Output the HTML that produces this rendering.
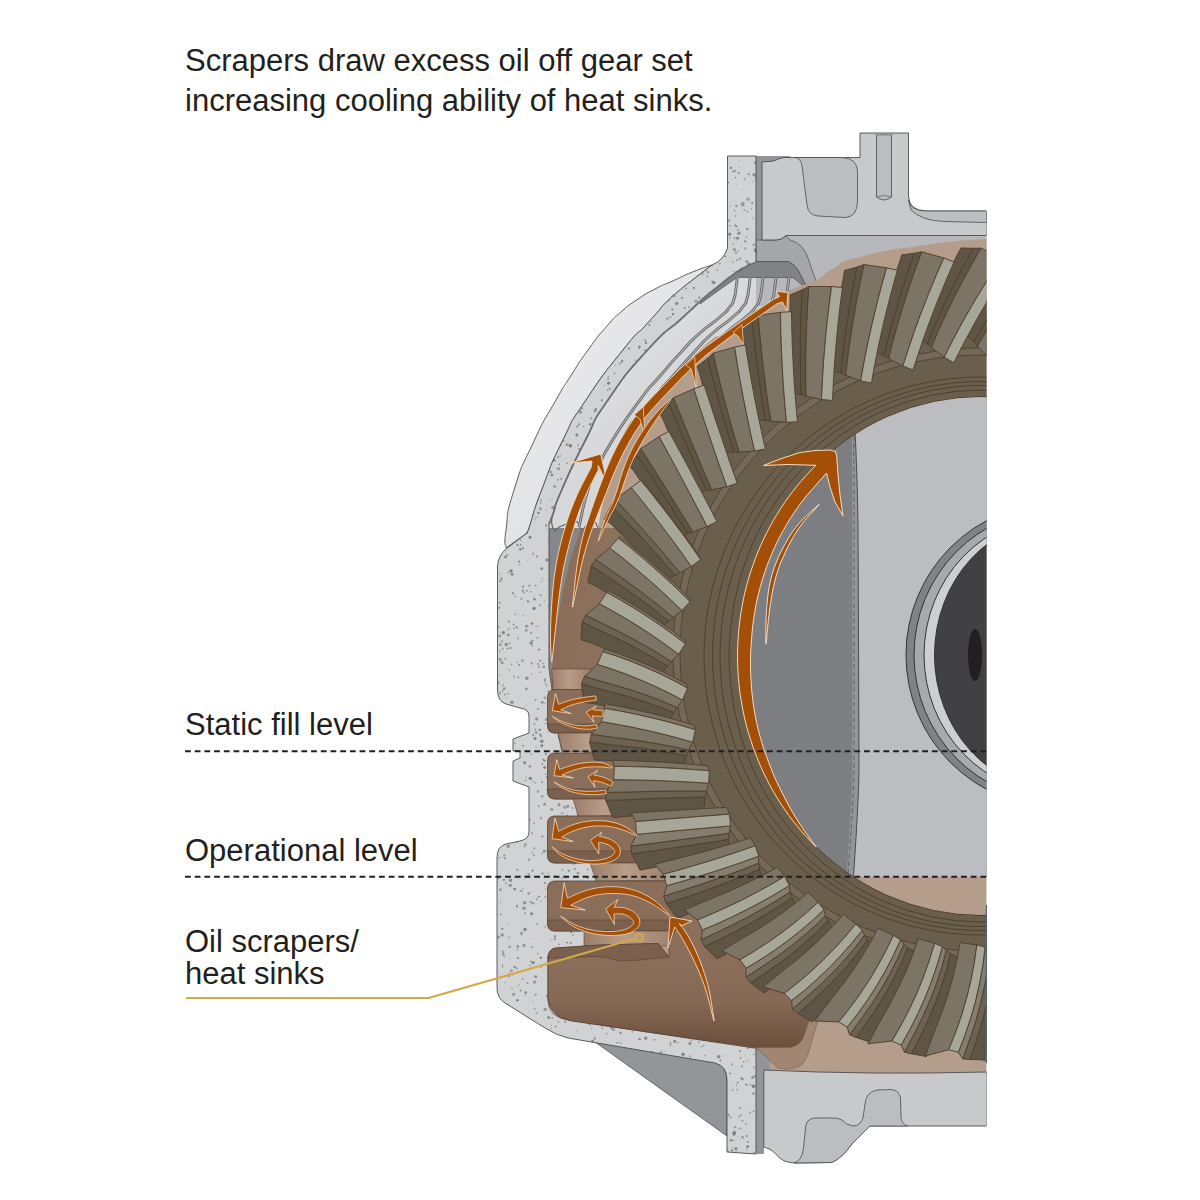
<!DOCTYPE html>
<html><head><meta charset="utf-8"><title>Scrapers</title>
<style>
html,body{margin:0;padding:0;background:#fff}
body{width:1200px;height:1200px;position:relative;overflow:hidden;font-family:"Liberation Sans",sans-serif;color:#231f20}
svg{position:absolute;left:0;top:0}
.t{position:absolute;white-space:nowrap;font-size:31px;line-height:40px;letter-spacing:0}
</style></head><body>
<svg width="1200" height="1200" viewBox="0 0 1200 1200">
<defs>
<linearGradient id="gShell" x1="0" y1="0" x2="1" y2="1"><stop offset="0" stop-color="#efeff0"/><stop offset="1" stop-color="#d8d9db"/></linearGradient>
<linearGradient id="gBand" x1="0" y1="0" x2="1" y2="1"><stop offset="0" stop-color="#e4e5e6"/><stop offset="1" stop-color="#c9cacc"/></linearGradient>
<linearGradient id="gSump2" x1="0" y1="950" x2="0" y2="1050" gradientUnits="userSpaceOnUse"><stop offset="0" stop-color="#8b6f5b"/><stop offset="0.5" stop-color="#866a56"/><stop offset="1" stop-color="#6a4e3b"/></linearGradient>
<linearGradient id="gNeck" x1="0" y1="0" x2="1" y2="0"><stop offset="0" stop-color="#9a7e6a"/><stop offset="0.35" stop-color="#b89d89"/><stop offset="1" stop-color="#8f735f"/></linearGradient>
<linearGradient id="gOilL" x1="550" y1="0" x2="620" y2="0" gradientUnits="userSpaceOnUse"><stop offset="0" stop-color="#8a6d59"/><stop offset="1" stop-color="#8d725e"/></linearGradient>
<clipPath id="cpAll"><rect x="0" y="0" width="986.5" height="1200"/></clipPath>
</defs>
<rect width="1200" height="1200" fill="#fff"/>
<g clip-path="url(#cpAll)">
<path d="M712,265 C705.5,267.3 705.2,266.9 692.5,272 C679.8,277.1 686.5,274.7 674,280.4 C661.5,286.1 667.7,282.3 655,289 C642.3,295.7 647.3,292.7 636,300.4 C624.7,308.1 630.5,303.7 621,312 C611.5,320.3 618.5,312.7 607.5,325.4 C596.5,338.1 600.5,332.8 588,350 C575.5,367.2 580.7,360.3 570,377 C559.3,393.7 568,378.7 556,400 C544,421.3 548,411 534,441 C520,471 523.3,460.3 514,490 C504.7,519.7 508.7,510.7 506,530 C503.3,549.3 506,542 506,548 L527,533 C528,530.3 525.1,539.3 530,525 C534.9,510.7 530.9,518 541.7,490 C552.5,462 547.7,471 562.5,441 C577.3,411 565.8,430.3 586,400 C606.2,369.7 603.3,374.7 623,350 C642.7,325.3 634.3,337.7 645,326 C655.7,314.3 647.5,323.3 655,315 C662.5,306.7 659.2,309.3 667.5,301 C675.8,292.7 671.7,297 680,290 C688.3,283 681.8,288.3 692.5,280 C703.2,271.7 705.5,270 712,265Z" fill="url(#gShell)" stroke="#4d4d4f" stroke-width="0.9"/>
<path d="M549,515 L640,515 L640,700 L549,700Z" fill="#85878a"/>
<path d="M756,262 C751.7,264 751.7,263 743,268 C734.3,273 738.5,270.7 730,277 C721.5,283.3 725.8,280.3 717.5,287 C709.2,293.7 713.3,289.8 705,297 C696.7,304.2 700.8,300.8 692.5,308.5 C684.2,316.2 695,306.2 680,320 C665,333.8 671.5,323.3 647.5,350 C623.5,376.7 628.8,369.7 608,400 C587.2,430.3 600.4,411 585,441 C569.6,471 572.4,465.7 561.7,490 C551,514.3 557.2,502.7 553,514 C548.8,525.3 550.3,520.7 549,524 L549,528 L640,528 L700,400 L800,300 L800,262Z" fill="url(#gBand)"/>
<path d="M552,517 Q550.5,528 555.5,531 L558,527.5 Q566,523 577,521.5 L579,525 Q580,530 583,530 L585,526.5 Q590,524 596,522.5 L597,526 Q598,530 601,530 L603,526 L611,522" fill="none" stroke="#4d4d4f" stroke-width="1"/>
<rect x="756" y="230" width="231" height="76" fill="#b6b8bb"/>
<path d="M756,156 L790,156 L790,162 L762,162 L762,240 L756,240Z" fill="#939598"/>
<path d="M756,240 L776,240 Q782,240 786,236 L790,240 Q803,243 808,258 L819,290 L808,290 L800,274 Q796,265 788,261.5 L756,261.5Z" fill="#a4a6a9" stroke="#4d4d4f" stroke-width="0.7"/>
<path d="M756,261.5 L788,261.5 Q796,265 800,274 L808,290 L793,277.5 L737,277.5 L722,288 L700,304 L703,298 L730,276.5Z" fill="#808285" stroke="#4d4d4f" stroke-width="0.7"/>
<path d="M762,162 L774,161 Q779,158 784,157.5 L860,157.5 L860,133 L908.5,133 L908.5,196 Q909,210.5 926,211 L986.5,211 L986.5,235.5 L786,235.5 Q782,240 776,240 L762,240Z" fill="#c8c9cb" stroke="#4d4d4f" stroke-width="0.9"/>
<path d="M908.5,200 Q910,210.5 926,211 L986.5,211 L986.5,222.5 L945,221.5 Q922,221 911,210Z" fill="#bdbec1" stroke="#4d4d4f" stroke-width="0.8"/>
<path d="M795,157.5 L842,157.5 Q857.5,158 857.5,172 L857.5,202 Q857,217 845,217.5 L818,216 Q808,215 807,205 L802,166 Q801,158 795,157.5Z" fill="#bbbdc0" stroke="#4d4d4f" stroke-width="0.8"/>
<path d="M876.5,134.5 L876.5,197 Q884,203 891.5,197 L891.5,134.5Z" fill="#bbbdc0" stroke="#4d4d4f" stroke-width="0.8"/>
<path d="M874,133.2 L894,133.2 L891.5,135.5 L876.5,135.5Z" fill="#8a8c8f"/>
<path d="M876.5,197 Q884,194 891.5,197" fill="none" stroke="#4d4d4f" stroke-width="0.6"/>
<rect x="756" y="1040" width="8" height="114" fill="#939598"/>
<path d="M756,1040 L790,1040 L790,1075 L756,1075Z" fill="#939598"/>
<path d="M595,1042 L716,1062.5 Q727,1066 727,1082 L727,1136Z" fill="#939598" stroke="#4d4d4f" stroke-width="0.8"/>
<clipPath id="cpH"><path d="M727.5,156 L756,156 L756,262 C751.7,264 751.7,263 743,268 C734.3,273 738.5,270.7 730,277 C721.5,283.3 725.8,280.3 717.5,287 C709.2,293.7 713.3,289.8 705,297 C696.7,304.2 700.8,300.8 692.5,308.5 C684.2,316.2 695,306.2 680,320 C665,333.8 671.5,323.3 647.5,350 C623.5,376.7 628.8,369.7 608,400 C587.2,430.3 600.4,411 585,441 C569.6,471 572.4,465.7 561.7,490 C551,514.3 557.2,502.7 553,514 C548.8,525.3 550.3,520.7 549,524 L549,668 L552,690 L558,733 L562,752 L577,799 L578,815 L596,863 L596,950 L548,956 L548,1000 Q548,1017 568,1020 L754,1048 L756,1048 L756,1154 L727,1152 L727,1080 Q727,1066 715,1063 L568,1038 Q556,1035 545,1028 L505,1003 Q497,998 497,988 L497,858 Q497,846 506,844 L520,841 Q529,839 529,832 L529,787 L513,781 L513,761 L520,758 L520,751 L513,751 L513,739 L529,733 L529,716 Q529,709 520,708 L506,704 Q497.5,701 497.5,690 L497.5,566 Q498,556 506,549 L527,533 C528,530.3 525.1,539.3 530,525 C534.9,510.7 530.9,518 541.7,490 C552.5,462 547.7,471 562.5,441 C577.3,411 565.8,430.3 586,400 C606.2,369.7 603.3,374.7 623,350 C642.7,325.3 634.3,337.7 645,326 C655.7,314.3 647.5,323.3 655,315 C662.5,306.7 659.2,309.3 667.5,301 C675.8,292.7 671.7,297 680,290 C688.3,283 681.8,288.3 692.5,280 C703.2,271.7 705.5,270 712,265 Q724,260 727.5,248 Z"/></clipPath>
<path d="M727.5,156 L756,156 L756,262 C751.7,264 751.7,263 743,268 C734.3,273 738.5,270.7 730,277 C721.5,283.3 725.8,280.3 717.5,287 C709.2,293.7 713.3,289.8 705,297 C696.7,304.2 700.8,300.8 692.5,308.5 C684.2,316.2 695,306.2 680,320 C665,333.8 671.5,323.3 647.5,350 C623.5,376.7 628.8,369.7 608,400 C587.2,430.3 600.4,411 585,441 C569.6,471 572.4,465.7 561.7,490 C551,514.3 557.2,502.7 553,514 C548.8,525.3 550.3,520.7 549,524 L549,668 L552,690 L558,733 L562,752 L577,799 L578,815 L596,863 L596,950 L548,956 L548,1000 Q548,1017 568,1020 L754,1048 L756,1048 L756,1154 L727,1152 L727,1080 Q727,1066 715,1063 L568,1038 Q556,1035 545,1028 L505,1003 Q497,998 497,988 L497,858 Q497,846 506,844 L520,841 Q529,839 529,832 L529,787 L513,781 L513,761 L520,758 L520,751 L513,751 L513,739 L529,733 L529,716 Q529,709 520,708 L506,704 Q497.5,701 497.5,690 L497.5,566 Q498,556 506,549 L527,533 C528,530.3 525.1,539.3 530,525 C534.9,510.7 530.9,518 541.7,490 C552.5,462 547.7,471 562.5,441 C577.3,411 565.8,430.3 586,400 C606.2,369.7 603.3,374.7 623,350 C642.7,325.3 634.3,337.7 645,326 C655.7,314.3 647.5,323.3 655,315 C662.5,306.7 659.2,309.3 667.5,301 C675.8,292.7 671.7,297 680,290 C688.3,283 681.8,288.3 692.5,280 C703.2,271.7 705.5,270 712,265 Q724,260 727.5,248 Z" fill="#d1d2d4"/>
<g clip-path="url(#cpH)" fill="#7b7d80"><circle cx="543.9" cy="667" r="1.25" opacity="0.83"/><circle cx="544.3" cy="601.1" r="0.75" opacity="0.59"/><circle cx="499" cy="683.7" r="0.55" opacity="0.57"/><circle cx="645.1" cy="350.5" r="1.25" opacity="0.67"/><circle cx="545.5" cy="889.2" r="0.75" opacity="0.74"/><circle cx="533.8" cy="596" r="0.55" opacity="0.90"/><circle cx="545.3" cy="896.8" r="1.05" opacity="0.64"/><circle cx="555.5" cy="715" r="1.15" opacity="0.83"/><circle cx="731.1" cy="1140.3" r="1.25" opacity="0.88"/><circle cx="517.5" cy="628" r="0.65" opacity="0.94"/><circle cx="517.2" cy="907.7" r="0.55" opacity="0.69"/><circle cx="748.7" cy="264" r="1.7" opacity="0.83"/><circle cx="539.8" cy="605.2" r="0.85" opacity="0.97"/><circle cx="545.3" cy="926.9" r="0.85" opacity="0.66"/><circle cx="497.9" cy="626.9" r="1.45" opacity="0.57"/><circle cx="555" cy="936.4" r="1.05" opacity="0.86"/><circle cx="645.7" cy="1038.1" r="1.7" opacity="0.92"/><circle cx="755.3" cy="250" r="1.7" opacity="0.84"/><circle cx="733.5" cy="1140.3" r="0.85" opacity="0.79"/><circle cx="502.5" cy="967.2" r="0.65" opacity="0.74"/><circle cx="504.3" cy="688.5" r="1.25" opacity="0.90"/><circle cx="746.5" cy="236.9" r="0.85" opacity="0.75"/><circle cx="563" cy="828" r="1.15" opacity="0.64"/><circle cx="548.3" cy="691.3" r="1.05" opacity="0.55"/><circle cx="743" cy="1079.2" r="1.05" opacity="0.69"/><circle cx="545.7" cy="774.1" r="0.85" opacity="0.61"/><circle cx="522.8" cy="888.2" r="0.65" opacity="0.93"/><circle cx="680.9" cy="1037.5" r="0.55" opacity="0.72"/><circle cx="556.7" cy="898.2" r="1.7" opacity="0.71"/><circle cx="543" cy="759.2" r="0.85" opacity="0.65"/><circle cx="520.7" cy="990.5" r="0.95" opacity="0.79"/><circle cx="590.8" cy="861.8" r="1.25" opacity="0.89"/><circle cx="740.6" cy="246.2" r="0.55" opacity="0.61"/><circle cx="520.6" cy="544.8" r="0.95" opacity="0.78"/><circle cx="498.5" cy="858" r="0.85" opacity="0.63"/><circle cx="538.7" cy="667.7" r="0.55" opacity="0.70"/><circle cx="517.5" cy="1000.3" r="1.25" opacity="0.97"/><circle cx="646" cy="342.9" r="1.15" opacity="0.99"/><circle cx="546.8" cy="529.4" r="0.65" opacity="0.67"/><circle cx="521.4" cy="598.8" r="1.25" opacity="0.58"/><circle cx="537.4" cy="626.5" r="0.75" opacity="0.94"/><circle cx="554.3" cy="876.3" r="0.85" opacity="0.99"/><circle cx="525.5" cy="780.5" r="1.0" opacity="0.60"/><circle cx="536" cy="516.9" r="0.75" opacity="0.85"/><circle cx="590.2" cy="424.2" r="1.25" opacity="0.88"/><circle cx="535.7" cy="994.7" r="1.15" opacity="0.70"/><circle cx="574.2" cy="933.3" r="0.65" opacity="0.69"/><circle cx="517.3" cy="986.8" r="0.55" opacity="0.71"/><circle cx="546.7" cy="719.4" r="1.7" opacity="0.73"/><circle cx="536" cy="747.1" r="0.75" opacity="0.63"/><circle cx="512" cy="702.3" r="1.7" opacity="0.80"/><circle cx="583.6" cy="426.4" r="0.65" opacity="0.95"/><circle cx="533.1" cy="903.2" r="1.25" opacity="0.74"/><circle cx="531.2" cy="642.9" r="1.7" opacity="0.87"/><circle cx="730.5" cy="1117.4" r="1.25" opacity="0.56"/><circle cx="538" cy="791.5" r="1.25" opacity="0.63"/><circle cx="549.2" cy="579.2" r="0.85" opacity="0.67"/><circle cx="499.6" cy="635.9" r="1.7" opacity="0.57"/><circle cx="730.2" cy="1073.4" r="0.95" opacity="0.85"/><circle cx="739.9" cy="1051.1" r="1.0" opacity="0.96"/><circle cx="606.7" cy="1033.6" r="0.95" opacity="0.62"/><circle cx="580.3" cy="412" r="1.7" opacity="0.78"/><circle cx="534.9" cy="928.1" r="0.55" opacity="0.64"/><circle cx="517" cy="906.1" r="1.05" opacity="0.94"/><circle cx="519.1" cy="984.6" r="0.85" opacity="0.57"/><circle cx="745.8" cy="1123.6" r="0.95" opacity="0.69"/><circle cx="523" cy="548.2" r="1.0" opacity="0.89"/><circle cx="702.9" cy="273.1" r="1.0" opacity="0.56"/><circle cx="594.9" cy="867.1" r="0.85" opacity="0.68"/><circle cx="525" cy="929.5" r="1.7" opacity="0.87"/><circle cx="577.1" cy="426.5" r="1.0" opacity="0.88"/><circle cx="527.9" cy="560.9" r="0.65" opacity="0.70"/><circle cx="534.2" cy="848.2" r="1.0" opacity="0.70"/><circle cx="537" cy="924.2" r="0.85" opacity="0.80"/><circle cx="532.6" cy="870.6" r="1.05" opacity="1.00"/><circle cx="531.1" cy="632.7" r="0.95" opacity="0.86"/><circle cx="736" cy="1152.1" r="0.95" opacity="0.82"/><circle cx="527.5" cy="982.9" r="0.85" opacity="0.86"/><circle cx="591.4" cy="915.9" r="0.95" opacity="0.92"/><circle cx="544.2" cy="703.3" r="0.65" opacity="0.75"/><circle cx="531.6" cy="913.7" r="1.45" opacity="0.96"/><circle cx="741.9" cy="204" r="1.7" opacity="0.57"/><circle cx="672.8" cy="296.2" r="1.0" opacity="0.82"/><circle cx="528" cy="601.4" r="1.05" opacity="0.94"/><circle cx="538.5" cy="806" r="0.95" opacity="0.81"/><circle cx="734.4" cy="249.5" r="1.7" opacity="0.61"/><circle cx="540.6" cy="595.2" r="1.0" opacity="0.92"/><circle cx="742.5" cy="1137.1" r="1.0" opacity="0.95"/><circle cx="548.7" cy="1017.6" r="1.45" opacity="0.95"/><circle cx="546.8" cy="996.3" r="0.95" opacity="0.95"/><circle cx="746.6" cy="1136" r="1.25" opacity="0.60"/><circle cx="554.2" cy="460.2" r="1.45" opacity="0.86"/><circle cx="566.3" cy="877.3" r="1.05" opacity="0.85"/><circle cx="670.4" cy="1043.3" r="1.15" opacity="0.78"/><circle cx="753.9" cy="1054.4" r="0.75" opacity="0.85"/><circle cx="568.4" cy="796.3" r="0.65" opacity="0.76"/><circle cx="542.5" cy="891.5" r="0.55" opacity="0.63"/><circle cx="732.7" cy="1147.6" r="0.55" opacity="0.83"/><circle cx="752.2" cy="203" r="1.0" opacity="0.94"/><circle cx="499.7" cy="651.1" r="0.95" opacity="0.78"/><circle cx="542.2" cy="796.3" r="1.15" opacity="0.91"/><circle cx="506.2" cy="644.4" r="1.7" opacity="0.82"/><circle cx="530.7" cy="902" r="1.05" opacity="0.89"/><circle cx="505.5" cy="557.1" r="1.25" opacity="1.00"/><circle cx="508.1" cy="572.6" r="0.85" opacity="0.63"/><circle cx="549.2" cy="536.8" r="0.65" opacity="0.57"/><circle cx="510.2" cy="885.4" r="1.7" opacity="0.71"/><circle cx="735.4" cy="170.6" r="0.95" opacity="0.93"/><circle cx="596.1" cy="408.8" r="1.05" opacity="0.85"/><circle cx="594.9" cy="1038.9" r="0.85" opacity="0.79"/><circle cx="706.9" cy="271" r="1.0" opacity="0.58"/><circle cx="537" cy="556.5" r="1.0" opacity="0.90"/><circle cx="587.9" cy="869.4" r="1.05" opacity="0.59"/><circle cx="535" cy="738.5" r="1.45" opacity="0.93"/><circle cx="734.2" cy="271.5" r="0.65" opacity="0.96"/><circle cx="685.6" cy="1044.9" r="0.65" opacity="0.56"/><circle cx="555.6" cy="837" r="0.85" opacity="0.78"/><circle cx="740.5" cy="1139.6" r="0.55" opacity="0.66"/><circle cx="578" cy="873.1" r="1.45" opacity="0.73"/><circle cx="591" cy="863.2" r="1.05" opacity="0.88"/><circle cx="727.5" cy="1149.1" r="0.65" opacity="0.95"/><circle cx="562" cy="791.1" r="0.95" opacity="0.87"/><circle cx="707.3" cy="276.5" r="0.95" opacity="0.83"/><circle cx="572.4" cy="808.5" r="0.55" opacity="0.76"/><circle cx="512.9" cy="593.2" r="1.25" opacity="0.68"/><circle cx="533.1" cy="781.5" r="0.85" opacity="0.69"/><circle cx="532" cy="947" r="0.95" opacity="0.77"/><circle cx="497.9" cy="682.5" r="1.7" opacity="0.66"/><circle cx="549.6" cy="501" r="0.75" opacity="0.61"/><circle cx="497.5" cy="657.6" r="0.95" opacity="0.59"/><circle cx="701.8" cy="1046.6" r="0.85" opacity="0.58"/><circle cx="736.4" cy="205.9" r="1.15" opacity="0.83"/><circle cx="556" cy="756.7" r="1.15" opacity="0.57"/><circle cx="582" cy="408.5" r="1.15" opacity="0.69"/><circle cx="601.6" cy="1026.1" r="0.75" opacity="0.89"/><circle cx="732.8" cy="262.2" r="0.75" opacity="0.93"/><circle cx="535.2" cy="519.5" r="0.65" opacity="0.70"/><circle cx="741.1" cy="1114.8" r="0.85" opacity="0.93"/><circle cx="549.8" cy="785.5" r="1.45" opacity="0.99"/><circle cx="747.3" cy="228.9" r="1.25" opacity="0.75"/><circle cx="572.6" cy="851.9" r="1.25" opacity="0.82"/><circle cx="540.2" cy="660.8" r="1.0" opacity="0.85"/><circle cx="753.8" cy="1152.5" r="0.95" opacity="0.75"/><circle cx="620.5" cy="1042.9" r="0.95" opacity="0.76"/><circle cx="745.3" cy="1054.8" r="0.55" opacity="0.60"/><circle cx="558" cy="819.3" r="1.05" opacity="0.78"/><circle cx="572.9" cy="935.3" r="0.85" opacity="0.82"/><circle cx="651.1" cy="321.9" r="0.65" opacity="0.76"/><circle cx="535.7" cy="976.6" r="1.45" opacity="0.88"/><circle cx="755.1" cy="1086.3" r="0.65" opacity="0.73"/><circle cx="574.3" cy="896.7" r="0.85" opacity="0.65"/><circle cx="517.4" cy="949.6" r="0.95" opacity="0.71"/><circle cx="508.1" cy="994" r="0.55" opacity="0.62"/><circle cx="550.6" cy="920.3" r="0.55" opacity="0.69"/><circle cx="755.7" cy="1075.9" r="0.65" opacity="0.63"/><circle cx="517.1" cy="842.2" r="0.75" opacity="0.72"/><circle cx="525.7" cy="992.4" r="1.25" opacity="0.92"/><circle cx="732.6" cy="1089.8" r="0.85" opacity="0.85"/><circle cx="581.9" cy="854.4" r="0.85" opacity="0.83"/><circle cx="735.6" cy="215.9" r="0.75" opacity="0.99"/><circle cx="504.3" cy="855.5" r="1.15" opacity="0.62"/><circle cx="523.9" cy="945.5" r="1.7" opacity="0.68"/><circle cx="500.4" cy="692.6" r="0.85" opacity="0.85"/><circle cx="502.7" cy="951.6" r="1.05" opacity="0.62"/><circle cx="518.7" cy="958.2" r="0.75" opacity="0.79"/><circle cx="591.1" cy="945.2" r="0.85" opacity="0.77"/><circle cx="552.3" cy="796.5" r="0.85" opacity="0.80"/><circle cx="746.7" cy="261.4" r="1.25" opacity="0.88"/><circle cx="742.4" cy="1120.7" r="0.85" opacity="0.99"/><circle cx="577" cy="1030.8" r="0.55" opacity="0.98"/><circle cx="734" cy="1134" r="1.7" opacity="0.96"/><circle cx="546.1" cy="850.4" r="0.55" opacity="0.80"/><circle cx="583.9" cy="859.1" r="0.75" opacity="0.99"/><circle cx="746.7" cy="1084.6" r="0.95" opacity="0.97"/><circle cx="500.3" cy="644.6" r="1.15" opacity="1.00"/><circle cx="737" cy="260.2" r="0.85" opacity="0.94"/><circle cx="748.6" cy="174.3" r="0.55" opacity="0.62"/><circle cx="544.4" cy="760.7" r="1.15" opacity="0.90"/><circle cx="614.6" cy="373.2" r="0.95" opacity="0.63"/><circle cx="514.4" cy="993.7" r="0.75" opacity="0.74"/><circle cx="745.1" cy="218.9" r="0.55" opacity="0.57"/><circle cx="531.1" cy="961.6" r="0.95" opacity="0.98"/><circle cx="674.7" cy="1041.4" r="1.45" opacity="0.95"/><circle cx="753.5" cy="1093.5" r="1.25" opacity="0.78"/><circle cx="754.1" cy="174.7" r="1.7" opacity="0.81"/><circle cx="507.1" cy="555.2" r="0.85" opacity="0.98"/><circle cx="501.4" cy="578.3" r="1.0" opacity="0.83"/><circle cx="533.1" cy="735.1" r="1.15" opacity="0.74"/><circle cx="538.1" cy="663.9" r="0.85" opacity="0.89"/><circle cx="524.7" cy="902.7" r="1.7" opacity="0.78"/><circle cx="517.4" cy="957.9" r="0.85" opacity="0.81"/><circle cx="546.6" cy="789.5" r="0.65" opacity="0.74"/><circle cx="754.3" cy="1076.3" r="1.25" opacity="0.66"/><circle cx="526.2" cy="630.4" r="1.45" opacity="0.66"/><circle cx="738.7" cy="173.1" r="1.05" opacity="0.85"/><circle cx="563.8" cy="440.9" r="0.95" opacity="0.69"/><circle cx="544.3" cy="851.2" r="1.7" opacity="0.67"/><circle cx="554.6" cy="868.2" r="0.55" opacity="0.56"/><circle cx="537.7" cy="953.6" r="0.85" opacity="0.65"/><circle cx="535.6" cy="585.6" r="1.0" opacity="0.67"/><circle cx="544.6" cy="804.3" r="1.25" opacity="0.90"/><circle cx="737.9" cy="229.9" r="0.95" opacity="0.74"/><circle cx="743.7" cy="1061.6" r="0.85" opacity="0.81"/><circle cx="753.6" cy="1111.4" r="0.85" opacity="0.98"/><circle cx="730.4" cy="206.6" r="0.65" opacity="0.55"/><circle cx="558.6" cy="1022" r="0.95" opacity="0.57"/><circle cx="509.5" cy="628.4" r="0.55" opacity="0.72"/><circle cx="560" cy="898.9" r="1.15" opacity="0.94"/><circle cx="729.8" cy="225.7" r="0.85" opacity="0.68"/><circle cx="554.9" cy="928.1" r="1.05" opacity="0.81"/><circle cx="500.7" cy="914.4" r="0.95" opacity="0.79"/><circle cx="660.7" cy="1052.4" r="1.25" opacity="0.77"/><circle cx="735.1" cy="1126.9" r="1.25" opacity="0.62"/><circle cx="588.4" cy="916.5" r="0.65" opacity="0.55"/><circle cx="681.9" cy="297.9" r="1.15" opacity="0.79"/><circle cx="669.2" cy="300.1" r="0.85" opacity="0.83"/><circle cx="703.8" cy="1045.6" r="0.75" opacity="0.92"/><circle cx="540.4" cy="508.7" r="1.45" opacity="0.71"/><circle cx="510.7" cy="647.9" r="1.25" opacity="0.57"/><circle cx="567.3" cy="823.7" r="1.45" opacity="0.86"/><circle cx="509.2" cy="937.3" r="0.85" opacity="0.80"/><circle cx="561" cy="445.1" r="0.85" opacity="0.56"/><circle cx="639.4" cy="1039.1" r="1.15" opacity="0.91"/><circle cx="591" cy="418.3" r="1.0" opacity="0.79"/><circle cx="503.4" cy="954.3" r="1.15" opacity="0.76"/><circle cx="745.2" cy="241.4" r="1.05" opacity="0.80"/><circle cx="728.3" cy="1151.3" r="0.85" opacity="0.58"/><circle cx="649.3" cy="324.9" r="1.0" opacity="0.89"/><circle cx="498.3" cy="878.7" r="0.85" opacity="0.82"/><circle cx="559.3" cy="464.2" r="0.75" opacity="0.98"/><circle cx="504.1" cy="955.9" r="0.75" opacity="0.91"/><circle cx="506.4" cy="698" r="0.55" opacity="0.61"/><circle cx="538.2" cy="517.6" r="0.55" opacity="0.71"/><circle cx="559" cy="803.6" r="0.75" opacity="0.59"/><circle cx="507.4" cy="1004.8" r="1.15" opacity="0.99"/><circle cx="514.5" cy="677.6" r="0.65" opacity="0.63"/><circle cx="534.6" cy="723.8" r="1.05" opacity="0.59"/><circle cx="756.7" cy="178.4" r="1.7" opacity="0.70"/><circle cx="530" cy="537.3" r="1.45" opacity="0.95"/><circle cx="740" cy="258.8" r="1.25" opacity="0.57"/><circle cx="570.4" cy="445.7" r="1.7" opacity="1.00"/><circle cx="521.3" cy="890.9" r="1.25" opacity="0.63"/><circle cx="529.9" cy="938.6" r="0.55" opacity="0.75"/><circle cx="566" cy="824.6" r="0.55" opacity="0.67"/><circle cx="591.9" cy="850.7" r="0.85" opacity="0.79"/><circle cx="525.5" cy="844.5" r="1.25" opacity="0.70"/><circle cx="676.7" cy="303.5" r="1.7" opacity="0.84"/><circle cx="639.5" cy="346.7" r="1.25" opacity="0.85"/><circle cx="751.5" cy="208.8" r="0.65" opacity="0.97"/><circle cx="531.9" cy="833.2" r="0.85" opacity="0.86"/><circle cx="571.1" cy="932.1" r="1.25" opacity="0.74"/><circle cx="750" cy="1112.7" r="1.0" opacity="0.62"/><circle cx="739.7" cy="1108.2" r="1.15" opacity="0.63"/><circle cx="511" cy="570.9" r="1.7" opacity="0.99"/><circle cx="540.4" cy="672.2" r="0.75" opacity="0.82"/><circle cx="511.6" cy="664.5" r="0.85" opacity="0.63"/><circle cx="529.1" cy="859.7" r="1.15" opacity="0.78"/><circle cx="609.6" cy="388.7" r="0.95" opacity="0.96"/><circle cx="702.2" cy="274.5" r="0.85" opacity="0.71"/><circle cx="664.1" cy="1050.9" r="0.65" opacity="0.79"/><circle cx="622.1" cy="361.5" r="1.15" opacity="0.91"/><circle cx="499" cy="607.8" r="1.15" opacity="0.77"/><circle cx="530.3" cy="778.4" r="1.7" opacity="0.94"/><circle cx="519.5" cy="564.7" r="0.75" opacity="0.68"/><circle cx="579" cy="448.9" r="0.85" opacity="0.98"/><circle cx="672.4" cy="309.6" r="1.05" opacity="0.94"/><circle cx="539.8" cy="729.8" r="1.25" opacity="0.90"/><circle cx="729.2" cy="220.1" r="0.85" opacity="0.84"/><circle cx="736.4" cy="241.8" r="0.55" opacity="0.76"/><circle cx="558.9" cy="804.9" r="1.45" opacity="0.79"/><circle cx="502.2" cy="934.9" r="1.7" opacity="0.75"/><circle cx="578.6" cy="926.6" r="1.45" opacity="0.93"/><circle cx="506.7" cy="643.9" r="0.65" opacity="0.76"/><circle cx="708.2" cy="272.4" r="0.85" opacity="0.96"/><circle cx="515" cy="743.1" r="0.95" opacity="0.64"/><circle cx="570.7" cy="445.4" r="0.95" opacity="0.73"/><circle cx="566.7" cy="444.9" r="1.15" opacity="0.79"/><circle cx="520.7" cy="540" r="0.85" opacity="0.78"/><circle cx="508.1" cy="629.8" r="0.95" opacity="0.55"/><circle cx="515.4" cy="596.5" r="0.85" opacity="0.70"/><circle cx="741.8" cy="1066.4" r="1.05" opacity="0.65"/><circle cx="559.2" cy="944.4" r="0.85" opacity="0.80"/><circle cx="504.9" cy="858.4" r="0.95" opacity="0.93"/><circle cx="514.7" cy="889.1" r="1.45" opacity="0.93"/><circle cx="731.8" cy="1150.6" r="1.0" opacity="0.93"/><circle cx="595.4" cy="872.7" r="0.95" opacity="0.76"/><circle cx="549.4" cy="605.7" r="1.25" opacity="0.92"/><circle cx="684.7" cy="307.9" r="0.95" opacity="0.96"/><circle cx="508.9" cy="621.5" r="1.0" opacity="0.91"/><circle cx="567.8" cy="847.6" r="0.65" opacity="0.81"/><circle cx="519.3" cy="664.9" r="0.95" opacity="0.91"/><circle cx="546.8" cy="686.1" r="0.85" opacity="0.70"/><circle cx="523.8" cy="592.7" r="1.0" opacity="0.61"/><circle cx="528.6" cy="874.4" r="1.05" opacity="0.81"/><circle cx="713.7" cy="282.6" r="1.7" opacity="0.92"/><circle cx="502.4" cy="857" r="0.55" opacity="0.84"/><circle cx="541.7" cy="568.6" r="1.45" opacity="0.90"/><circle cx="587.6" cy="928.9" r="0.95" opacity="0.64"/><circle cx="738.5" cy="251.2" r="0.65" opacity="0.89"/><circle cx="502.6" cy="648.7" r="0.95" opacity="0.74"/><circle cx="640.2" cy="1039.6" r="0.85" opacity="0.92"/><circle cx="737.7" cy="1082.6" r="1.05" opacity="0.77"/><circle cx="532.6" cy="640.5" r="0.85" opacity="0.61"/><circle cx="670.6" cy="1045.5" r="0.75" opacity="0.93"/><circle cx="552.2" cy="498.8" r="0.55" opacity="0.75"/><circle cx="698.8" cy="1042.1" r="0.85" opacity="0.83"/><circle cx="533.6" cy="724.9" r="0.65" opacity="0.71"/><circle cx="622.2" cy="360.5" r="0.65" opacity="0.93"/><circle cx="509.6" cy="947" r="1.15" opacity="0.83"/><circle cx="686" cy="288.6" r="1.05" opacity="0.59"/><circle cx="502.6" cy="965.5" r="0.95" opacity="0.62"/><circle cx="560.3" cy="770.7" r="1.45" opacity="0.79"/><circle cx="551" cy="705.6" r="0.75" opacity="0.98"/><circle cx="521.5" cy="934.4" r="0.75" opacity="0.95"/><circle cx="540.8" cy="736.5" r="0.85" opacity="0.83"/><circle cx="560.5" cy="798.4" r="0.75" opacity="0.87"/><circle cx="611.5" cy="1045.4" r="0.85" opacity="0.56"/><circle cx="542.5" cy="873.6" r="1.15" opacity="0.84"/><circle cx="747.8" cy="1141.9" r="1.0" opacity="0.78"/><circle cx="579" cy="910.2" r="1.15" opacity="0.65"/><circle cx="508.2" cy="634.9" r="1.45" opacity="0.77"/><circle cx="539.1" cy="666.5" r="0.95" opacity="0.68"/><circle cx="572.4" cy="807.8" r="1.0" opacity="0.55"/><circle cx="754" cy="1067.6" r="1.0" opacity="0.58"/><circle cx="570.8" cy="943.1" r="1.15" opacity="0.79"/><circle cx="562.5" cy="869.9" r="0.95" opacity="0.77"/><circle cx="546.5" cy="509.8" r="0.65" opacity="0.56"/><circle cx="509" cy="976.6" r="0.85" opacity="0.99"/><circle cx="522.9" cy="615.8" r="0.75" opacity="0.70"/><circle cx="608.3" cy="376.5" r="0.75" opacity="0.77"/><circle cx="555.2" cy="845.7" r="1.15" opacity="0.67"/><circle cx="728.4" cy="182.5" r="0.85" opacity="1.00"/><circle cx="638.8" cy="347.9" r="0.85" opacity="0.91"/><circle cx="553" cy="507.6" r="1.7" opacity="0.77"/><circle cx="601.9" cy="400.3" r="1.15" opacity="0.78"/><circle cx="693.7" cy="287.9" r="1.05" opacity="0.98"/><circle cx="507.1" cy="924.3" r="0.65" opacity="0.75"/><circle cx="500.2" cy="659.5" r="1.7" opacity="0.66"/><circle cx="544.8" cy="679.7" r="1.15" opacity="0.77"/><circle cx="731.9" cy="1064.4" r="1.05" opacity="0.66"/><circle cx="560.8" cy="768.5" r="1.05" opacity="0.75"/><circle cx="733.3" cy="171.5" r="1.05" opacity="0.91"/><circle cx="734.3" cy="1132.4" r="1.7" opacity="0.86"/><circle cx="747.3" cy="1060.5" r="0.65" opacity="0.89"/><circle cx="554.7" cy="486.5" r="1.45" opacity="0.68"/><circle cx="645.6" cy="1032.2" r="0.75" opacity="0.78"/><circle cx="530.9" cy="754.4" r="0.85" opacity="0.66"/><circle cx="688.9" cy="307.1" r="0.95" opacity="0.72"/><circle cx="560.2" cy="455.9" r="0.85" opacity="0.62"/><circle cx="737.1" cy="1089.6" r="0.95" opacity="0.63"/><circle cx="497.6" cy="882.1" r="0.55" opacity="0.83"/><circle cx="534.1" cy="823.1" r="0.85" opacity="0.86"/><circle cx="536.2" cy="732.6" r="1.45" opacity="0.75"/><circle cx="567" cy="463.2" r="0.95" opacity="0.71"/><circle cx="532.1" cy="645.5" r="0.85" opacity="0.75"/><circle cx="576.8" cy="435" r="1.45" opacity="0.92"/><circle cx="523.1" cy="586.5" r="1.05" opacity="0.94"/><circle cx="558.6" cy="468.6" r="1.7" opacity="0.68"/><circle cx="522.7" cy="590.7" r="1.15" opacity="0.83"/><circle cx="595.9" cy="912.5" r="1.0" opacity="0.56"/><circle cx="543.2" cy="663.4" r="1.0" opacity="0.64"/><circle cx="734.5" cy="210.4" r="0.85" opacity="0.66"/><circle cx="591.7" cy="890.2" r="0.65" opacity="0.83"/><circle cx="563.3" cy="926.6" r="0.95" opacity="0.87"/><circle cx="549.8" cy="908.3" r="0.55" opacity="0.92"/><circle cx="743.4" cy="1138.3" r="0.55" opacity="0.88"/><circle cx="748.6" cy="174.3" r="1.0" opacity="0.92"/><circle cx="563.5" cy="903.1" r="0.85" opacity="0.97"/><circle cx="752.4" cy="1077.7" r="1.25" opacity="0.84"/><circle cx="595.8" cy="932.4" r="1.0" opacity="0.93"/><circle cx="746.9" cy="1149.8" r="0.65" opacity="0.86"/><circle cx="517.9" cy="946.6" r="1.25" opacity="0.96"/><circle cx="747.9" cy="199.3" r="1.7" opacity="0.60"/><circle cx="514" cy="628.4" r="0.95" opacity="0.65"/><circle cx="532.2" cy="852.6" r="0.95" opacity="0.56"/><circle cx="517.6" cy="782.8" r="0.55" opacity="0.97"/><circle cx="531.6" cy="663.4" r="1.05" opacity="0.81"/><circle cx="533.1" cy="553.7" r="1.25" opacity="0.57"/><circle cx="663.8" cy="333.5" r="1.15" opacity="0.63"/><circle cx="542.2" cy="702.3" r="1.25" opacity="0.83"/><circle cx="545.9" cy="754.2" r="1.05" opacity="0.86"/><circle cx="499.6" cy="602.8" r="1.0" opacity="0.69"/><circle cx="503.3" cy="632.6" r="1.7" opacity="0.91"/><circle cx="524.5" cy="846.5" r="0.95" opacity="0.59"/><circle cx="731.7" cy="1083" r="0.65" opacity="0.58"/><circle cx="501.9" cy="641.4" r="1.05" opacity="0.69"/><circle cx="753.8" cy="244.7" r="1.25" opacity="0.69"/><circle cx="551.2" cy="1025.2" r="0.55" opacity="0.99"/><circle cx="526.1" cy="777" r="0.75" opacity="0.58"/><circle cx="552.2" cy="1018" r="0.95" opacity="0.75"/><circle cx="561.8" cy="878.3" r="0.85" opacity="0.66"/><circle cx="547.5" cy="732.2" r="0.55" opacity="0.65"/><circle cx="739.1" cy="160.8" r="0.55" opacity="0.63"/><circle cx="719.8" cy="263.7" r="1.0" opacity="0.69"/><circle cx="611.6" cy="1028.1" r="1.45" opacity="0.89"/><circle cx="710.9" cy="1042.1" r="0.75" opacity="0.77"/><circle cx="526.9" cy="590.8" r="0.95" opacity="0.76"/><circle cx="519.1" cy="561.6" r="1.0" opacity="0.89"/><circle cx="517.4" cy="869.8" r="1.05" opacity="0.89"/><circle cx="504.9" cy="694.6" r="0.85" opacity="0.92"/><circle cx="755.8" cy="251.6" r="1.15" opacity="0.86"/><circle cx="517.4" cy="545.1" r="1.15" opacity="0.84"/><circle cx="556.2" cy="788.2" r="1.25" opacity="0.71"/><circle cx="563.4" cy="812.8" r="0.65" opacity="0.64"/><circle cx="572.7" cy="887.6" r="1.15" opacity="0.99"/><circle cx="499.9" cy="857.6" r="0.55" opacity="0.99"/><circle cx="567.8" cy="444.1" r="0.85" opacity="0.93"/><circle cx="547" cy="560" r="1.7" opacity="0.78"/><circle cx="499.6" cy="675.3" r="0.55" opacity="0.92"/><circle cx="559.9" cy="901" r="1.0" opacity="0.84"/><circle cx="750.5" cy="1084.7" r="0.95" opacity="0.59"/><circle cx="503.9" cy="879.8" r="1.15" opacity="0.90"/><circle cx="613.6" cy="1029.8" r="1.45" opacity="0.68"/><circle cx="747.6" cy="1047.9" r="1.0" opacity="0.97"/><circle cx="545.2" cy="1009.4" r="1.7" opacity="0.71"/><circle cx="500.3" cy="581.3" r="1.05" opacity="0.80"/><circle cx="604.2" cy="385.5" r="0.65" opacity="0.69"/><circle cx="736.5" cy="184.8" r="0.55" opacity="0.56"/><circle cx="513.6" cy="624.4" r="0.95" opacity="0.85"/><circle cx="549.9" cy="696.6" r="1.15" opacity="0.90"/><circle cx="549.7" cy="523.5" r="0.85" opacity="0.80"/><circle cx="502.4" cy="928.8" r="0.95" opacity="0.99"/><circle cx="542.4" cy="836.5" r="1.05" opacity="0.95"/><circle cx="528.5" cy="893.6" r="1.05" opacity="0.98"/><circle cx="565.2" cy="1021.9" r="1.05" opacity="0.78"/><circle cx="736.6" cy="226.4" r="0.95" opacity="0.92"/><circle cx="666.7" cy="318.7" r="0.85" opacity="0.91"/><circle cx="534.1" cy="608.4" r="1.7" opacity="0.94"/><circle cx="549.8" cy="910.7" r="0.55" opacity="0.95"/><circle cx="542.5" cy="764.1" r="1.05" opacity="0.67"/><circle cx="516.8" cy="968.3" r="1.15" opacity="0.68"/><circle cx="561.7" cy="790.5" r="0.95" opacity="0.62"/><circle cx="574.8" cy="869" r="1.15" opacity="0.58"/><circle cx="615.1" cy="365.1" r="0.65" opacity="0.72"/><circle cx="541" cy="818" r="1.15" opacity="0.69"/><circle cx="529.6" cy="585.5" r="0.75" opacity="0.99"/><circle cx="744.6" cy="179.2" r="0.85" opacity="0.72"/><circle cx="558" cy="479.8" r="0.95" opacity="0.67"/><circle cx="526.4" cy="688.9" r="1.45" opacity="0.67"/><circle cx="558.7" cy="895.2" r="1.45" opacity="0.58"/><circle cx="567.8" cy="910.9" r="1.7" opacity="0.85"/><circle cx="543.7" cy="760.3" r="0.55" opacity="0.95"/><circle cx="654.4" cy="1039.8" r="1.05" opacity="0.68"/><circle cx="521.5" cy="933.1" r="1.25" opacity="0.84"/><circle cx="513.8" cy="675.9" r="0.95" opacity="0.55"/><circle cx="508.3" cy="846.2" r="1.7" opacity="0.71"/><circle cx="579" cy="424.2" r="1.05" opacity="0.89"/><circle cx="500.5" cy="889.7" r="1.45" opacity="0.63"/><circle cx="696" cy="301.2" r="1.7" opacity="0.60"/><circle cx="502.9" cy="685" r="0.85" opacity="0.91"/><circle cx="747.6" cy="1146.7" r="1.45" opacity="0.96"/><circle cx="565" cy="807.2" r="1.7" opacity="0.61"/><circle cx="628.9" cy="348.7" r="0.95" opacity="0.92"/><circle cx="529.6" cy="819.5" r="1.0" opacity="0.78"/><circle cx="632.1" cy="1031.8" r="0.85" opacity="0.74"/><circle cx="591.8" cy="905.8" r="1.25" opacity="0.61"/><circle cx="587.7" cy="877.5" r="1.25" opacity="0.91"/><circle cx="539" cy="649.6" r="1.15" opacity="0.87"/><circle cx="526.9" cy="678.2" r="1.7" opacity="0.81"/><circle cx="736" cy="252.9" r="1.45" opacity="0.56"/><circle cx="591.2" cy="855.7" r="1.15" opacity="0.85"/><circle cx="683.1" cy="1054.2" r="1.7" opacity="0.95"/><circle cx="533.4" cy="1002.1" r="0.55" opacity="0.91"/><circle cx="741.6" cy="1078.6" r="1.25" opacity="0.83"/><circle cx="592.6" cy="1041.3" r="1.45" opacity="0.86"/><circle cx="539.4" cy="896.6" r="0.95" opacity="0.83"/><circle cx="691.5" cy="1040.2" r="1.05" opacity="0.55"/><circle cx="578.1" cy="444.9" r="1.0" opacity="0.60"/><circle cx="672.9" cy="314.2" r="1.15" opacity="1.00"/><circle cx="736" cy="1148.8" r="1.45" opacity="0.99"/><circle cx="533.9" cy="855.3" r="0.95" opacity="0.78"/><circle cx="556.2" cy="771.3" r="1.45" opacity="0.65"/><circle cx="752.9" cy="218" r="0.75" opacity="0.61"/><circle cx="534.8" cy="1009.1" r="0.95" opacity="0.66"/><circle cx="547" cy="777" r="0.95" opacity="0.99"/><circle cx="500.5" cy="902.4" r="0.75" opacity="0.65"/><circle cx="514.6" cy="967" r="1.15" opacity="0.91"/><circle cx="550" cy="827.9" r="0.75" opacity="0.62"/><circle cx="651.9" cy="1051.7" r="0.95" opacity="0.80"/><circle cx="535.6" cy="782.8" r="0.85" opacity="0.66"/><circle cx="753.2" cy="181" r="0.75" opacity="0.55"/><circle cx="511.9" cy="988.5" r="0.85" opacity="0.67"/><circle cx="540.9" cy="957.7" r="1.25" opacity="0.89"/><circle cx="529.8" cy="766.5" r="1.15" opacity="0.88"/><circle cx="538.4" cy="513.1" r="1.25" opacity="0.90"/><circle cx="551.1" cy="1028.4" r="0.65" opacity="0.85"/><circle cx="518.4" cy="677.3" r="0.85" opacity="0.94"/><circle cx="529.1" cy="528.8" r="0.95" opacity="0.56"/><circle cx="550.7" cy="939.5" r="0.65" opacity="0.67"/><circle cx="608.6" cy="383.2" r="1.45" opacity="1.00"/><circle cx="513.4" cy="994.4" r="1.7" opacity="0.55"/><circle cx="544.6" cy="680.9" r="0.95" opacity="0.76"/><circle cx="534.5" cy="982.1" r="1.7" opacity="0.75"/><circle cx="529.2" cy="876.8" r="0.55" opacity="0.92"/><circle cx="566.3" cy="1037.6" r="0.85" opacity="0.88"/><circle cx="731.1" cy="167.9" r="1.05" opacity="0.98"/><circle cx="558.5" cy="823.2" r="1.7" opacity="0.70"/><circle cx="617.3" cy="1042.6" r="0.95" opacity="0.71"/><circle cx="548.9" cy="646.7" r="0.95" opacity="0.67"/><circle cx="541.9" cy="853.7" r="0.65" opacity="0.93"/><circle cx="551.9" cy="475.1" r="1.45" opacity="0.93"/><circle cx="541.9" cy="782.3" r="0.95" opacity="0.76"/><circle cx="497.4" cy="647.7" r="0.55" opacity="0.97"/><circle cx="530.1" cy="965.6" r="0.75" opacity="0.88"/><circle cx="506.1" cy="882.8" r="0.85" opacity="0.79"/><circle cx="537.7" cy="897" r="0.65" opacity="0.75"/><circle cx="755.7" cy="162.8" r="1.7" opacity="0.69"/><circle cx="541.2" cy="967.1" r="0.85" opacity="0.74"/><circle cx="564.7" cy="459" r="0.55" opacity="0.84"/><circle cx="524.7" cy="762.7" r="1.7" opacity="0.75"/><circle cx="511.4" cy="970.8" r="1.45" opacity="0.60"/><circle cx="541" cy="901.4" r="0.65" opacity="0.75"/><circle cx="745.7" cy="1084.6" r="0.95" opacity="0.62"/><circle cx="516.3" cy="626.9" r="0.85" opacity="0.85"/><circle cx="740.5" cy="1128.7" r="1.15" opacity="0.57"/><circle cx="574" cy="862.9" r="1.7" opacity="0.90"/><circle cx="558.1" cy="457.2" r="1.0" opacity="0.81"/><circle cx="548.5" cy="991.6" r="0.65" opacity="0.61"/><circle cx="568.6" cy="860" r="0.75" opacity="0.88"/><circle cx="515.4" cy="614.3" r="0.85" opacity="0.71"/><circle cx="568.9" cy="870.7" r="1.25" opacity="0.75"/><circle cx="593.2" cy="924.2" r="1.0" opacity="0.97"/><circle cx="501.3" cy="579.5" r="0.95" opacity="0.69"/><circle cx="518.2" cy="638.4" r="0.85" opacity="0.80"/><circle cx="602.3" cy="1028.3" r="0.85" opacity="0.80"/><circle cx="737.6" cy="238.3" r="1.45" opacity="0.91"/><circle cx="583.9" cy="881.6" r="0.75" opacity="0.82"/><circle cx="517.3" cy="662.2" r="0.65" opacity="0.96"/><circle cx="607.4" cy="390.3" r="0.75" opacity="0.94"/><circle cx="755.2" cy="1051.4" r="0.55" opacity="0.59"/><circle cx="509.3" cy="669.9" r="0.75" opacity="0.86"/><circle cx="545.4" cy="1009.6" r="0.55" opacity="0.57"/><circle cx="570" cy="797.9" r="0.75" opacity="0.63"/><circle cx="595.1" cy="410.7" r="1.45" opacity="0.80"/><circle cx="566.8" cy="889.5" r="1.05" opacity="0.64"/><circle cx="505.3" cy="658.7" r="1.0" opacity="0.74"/><circle cx="690" cy="1056.2" r="1.0" opacity="0.66"/><circle cx="503.7" cy="951.9" r="0.65" opacity="0.65"/><circle cx="755.8" cy="176" r="0.85" opacity="0.93"/><circle cx="567.1" cy="815.4" r="0.95" opacity="0.69"/><circle cx="502.9" cy="953.1" r="0.95" opacity="0.63"/><circle cx="733" cy="243.8" r="0.75" opacity="0.92"/><circle cx="729.3" cy="221.3" r="0.95" opacity="0.66"/><circle cx="544.6" cy="767.6" r="1.45" opacity="0.98"/><circle cx="620.5" cy="1033" r="1.25" opacity="0.79"/><circle cx="567.2" cy="778.6" r="1.15" opacity="0.98"/><circle cx="745.2" cy="241.1" r="0.55" opacity="0.81"/><circle cx="530.5" cy="892.3" r="0.55" opacity="0.86"/><circle cx="747.4" cy="211.6" r="0.85" opacity="0.90"/><circle cx="753.4" cy="1086.2" r="1.7" opacity="0.99"/><circle cx="532.2" cy="640.4" r="0.75" opacity="0.99"/><circle cx="738.2" cy="1128.3" r="0.55" opacity="0.89"/><circle cx="558.4" cy="821.6" r="1.45" opacity="0.59"/><circle cx="705.2" cy="1055.3" r="0.75" opacity="0.74"/><circle cx="645.2" cy="340.2" r="0.95" opacity="0.79"/><circle cx="544.9" cy="882.9" r="0.95" opacity="0.92"/><circle cx="537.4" cy="637.6" r="0.85" opacity="0.92"/><circle cx="553.3" cy="928.1" r="1.0" opacity="0.63"/><circle cx="567.1" cy="942.6" r="0.95" opacity="0.89"/><circle cx="541.4" cy="581.5" r="0.85" opacity="0.56"/><circle cx="544.9" cy="697.7" r="1.25" opacity="0.69"/><circle cx="728.6" cy="1115" r="1.15" opacity="0.82"/><circle cx="535.7" cy="699.6" r="0.85" opacity="0.95"/><circle cx="540.5" cy="734.7" r="1.25" opacity="0.84"/><circle cx="725.4" cy="256.3" r="0.85" opacity="0.94"/><circle cx="544.5" cy="723.7" r="0.55" opacity="1.00"/><circle cx="532" cy="623.4" r="1.25" opacity="0.95"/><circle cx="732.7" cy="1150.4" r="0.75" opacity="0.67"/><circle cx="594.6" cy="1038.1" r="1.0" opacity="0.78"/><circle cx="737.9" cy="1136.2" r="0.55" opacity="0.92"/><circle cx="502.7" cy="690.9" r="0.85" opacity="0.84"/><circle cx="620" cy="363.4" r="0.95" opacity="0.90"/><circle cx="651.4" cy="1053" r="0.85" opacity="0.98"/><circle cx="712.1" cy="281.4" r="0.95" opacity="0.72"/><circle cx="720.4" cy="1060.4" r="0.85" opacity="0.95"/><circle cx="526.3" cy="704.8" r="0.55" opacity="0.72"/><circle cx="536.7" cy="719" r="1.7" opacity="0.71"/><circle cx="722.8" cy="1055.5" r="0.55" opacity="0.70"/><circle cx="507.9" cy="693.6" r="0.95" opacity="0.70"/><circle cx="558.8" cy="894.3" r="0.75" opacity="0.58"/><circle cx="546.4" cy="525.3" r="1.0" opacity="0.84"/><circle cx="536.8" cy="899.3" r="0.85" opacity="0.84"/><circle cx="592" cy="930.8" r="0.95" opacity="0.61"/><circle cx="499.4" cy="574" r="0.75" opacity="0.70"/><circle cx="744.2" cy="210.1" r="0.85" opacity="0.93"/><circle cx="533.3" cy="962.7" r="1.45" opacity="0.99"/><circle cx="738.8" cy="1116.4" r="0.85" opacity="0.83"/><circle cx="718.7" cy="1056.7" r="1.7" opacity="0.85"/><circle cx="520.3" cy="549.2" r="1.25" opacity="0.87"/><circle cx="536.6" cy="1013.3" r="1.0" opacity="0.68"/><circle cx="522.4" cy="660.6" r="1.45" opacity="0.62"/><circle cx="574.6" cy="841.1" r="1.25" opacity="0.94"/><circle cx="740.6" cy="1057.9" r="0.85" opacity="0.84"/><circle cx="508.7" cy="972.6" r="0.65" opacity="0.63"/><circle cx="531.7" cy="674" r="0.75" opacity="0.79"/><circle cx="551.6" cy="809.4" r="1.7" opacity="0.61"/><circle cx="549.7" cy="660.1" r="0.75" opacity="0.56"/><circle cx="560.1" cy="758.2" r="0.95" opacity="0.80"/><circle cx="690" cy="1043.5" r="1.7" opacity="0.70"/><circle cx="498.3" cy="937.2" r="1.45" opacity="0.75"/><circle cx="677.8" cy="1042.8" r="0.75" opacity="0.83"/><circle cx="540.7" cy="500.3" r="1.0" opacity="0.63"/><circle cx="729.6" cy="234.3" r="1.7" opacity="0.86"/><circle cx="729.6" cy="237.8" r="0.75" opacity="0.85"/><circle cx="555.4" cy="847.4" r="1.45" opacity="0.86"/><circle cx="541.8" cy="741.2" r="1.7" opacity="0.88"/><circle cx="505.2" cy="982.4" r="0.75" opacity="0.64"/><circle cx="545.7" cy="683.9" r="0.85" opacity="0.76"/><circle cx="510.6" cy="880.2" r="1.7" opacity="0.83"/><circle cx="735.6" cy="177.6" r="0.85" opacity="0.89"/><circle cx="526.7" cy="626.3" r="1.7" opacity="0.62"/><circle cx="541.8" cy="745.7" r="1.45" opacity="0.92"/><circle cx="734.4" cy="238.1" r="1.05" opacity="0.70"/><circle cx="591.6" cy="1028.6" r="0.75" opacity="0.63"/><circle cx="512.1" cy="574.3" r="1.45" opacity="0.89"/><circle cx="502.1" cy="662.7" r="1.7" opacity="0.66"/><circle cx="735.3" cy="225.5" r="0.95" opacity="0.92"/><circle cx="585.1" cy="852.9" r="0.85" opacity="0.62"/><circle cx="535.4" cy="729.6" r="0.85" opacity="0.86"/><circle cx="545.6" cy="525.8" r="0.75" opacity="0.62"/><circle cx="739" cy="233.2" r="1.7" opacity="0.75"/><circle cx="668.3" cy="318" r="0.85" opacity="0.81"/><circle cx="736.5" cy="1085.5" r="0.65" opacity="0.85"/><circle cx="540.8" cy="502.7" r="0.85" opacity="0.69"/><circle cx="554.8" cy="776.5" r="1.45" opacity="0.60"/><circle cx="567.9" cy="806.2" r="1.45" opacity="0.77"/><circle cx="674.7" cy="295.9" r="0.85" opacity="0.91"/><circle cx="529.2" cy="585.8" r="0.95" opacity="0.86"/><circle cx="523.9" cy="908.2" r="1.7" opacity="0.75"/><circle cx="523.2" cy="745.8" r="0.95" opacity="0.74"/><circle cx="534.5" cy="599.3" r="1.25" opacity="0.94"/><circle cx="608" cy="379" r="0.95" opacity="0.73"/><circle cx="743.7" cy="202.7" r="0.95" opacity="0.77"/><circle cx="586.3" cy="894.6" r="1.05" opacity="0.78"/><circle cx="699.3" cy="297.7" r="1.15" opacity="0.84"/><circle cx="547.1" cy="723.3" r="0.85" opacity="0.90"/><circle cx="548.2" cy="872.7" r="0.55" opacity="0.70"/><circle cx="554.9" cy="939" r="1.25" opacity="0.67"/><circle cx="526.4" cy="876.6" r="1.05" opacity="0.68"/><circle cx="512.8" cy="974.6" r="0.85" opacity="0.68"/><circle cx="712" cy="265.3" r="0.85" opacity="0.99"/><circle cx="538.1" cy="709" r="0.95" opacity="0.80"/><circle cx="509.7" cy="643.2" r="1.05" opacity="0.63"/><circle cx="557.1" cy="857" r="1.0" opacity="0.73"/><circle cx="522.8" cy="979" r="0.95" opacity="0.58"/><circle cx="550.6" cy="471.9" r="1.25" opacity="0.80"/><circle cx="717.2" cy="269.9" r="0.85" opacity="0.65"/><circle cx="635.4" cy="360.1" r="0.85" opacity="0.73"/><circle cx="555.6" cy="1026.6" r="0.85" opacity="1.00"/><circle cx="525.4" cy="995" r="0.65" opacity="0.89"/><circle cx="739.1" cy="167" r="0.55" opacity="0.60"/><circle cx="561.3" cy="478.7" r="1.05" opacity="0.79"/><circle cx="525" cy="913.2" r="1.0" opacity="0.79"/><circle cx="558.9" cy="737.8" r="1.25" opacity="0.61"/><circle cx="745.2" cy="248.5" r="1.15" opacity="0.64"/><circle cx="548.9" cy="539" r="1.15" opacity="0.57"/><circle cx="670.4" cy="317.1" r="1.0" opacity="0.66"/><circle cx="589.7" cy="1024.8" r="1.15" opacity="0.67"/><circle cx="561.7" cy="813.3" r="0.85" opacity="0.77"/><circle cx="542.5" cy="578.8" r="0.65" opacity="0.83"/><circle cx="507.6" cy="648.4" r="0.95" opacity="0.92"/><circle cx="530.7" cy="591.7" r="0.85" opacity="0.66"/><circle cx="499.6" cy="694" r="0.75" opacity="0.79"/><circle cx="743.5" cy="205.3" r="1.15" opacity="0.91"/></g>
<path d="M727.5,156 L756,156 L756,262 C751.7,264 751.7,263 743,268 C734.3,273 738.5,270.7 730,277 C721.5,283.3 725.8,280.3 717.5,287 C709.2,293.7 713.3,289.8 705,297 C696.7,304.2 700.8,300.8 692.5,308.5 C684.2,316.2 695,306.2 680,320 C665,333.8 671.5,323.3 647.5,350 C623.5,376.7 628.8,369.7 608,400 C587.2,430.3 600.4,411 585,441 C569.6,471 572.4,465.7 561.7,490 C551,514.3 557.2,502.7 553,514 C548.8,525.3 550.3,520.7 549,524 L549,668 L552,690 L558,733 L562,752 L577,799 L578,815 L596,863 L596,950 L548,956 L548,1000 Q548,1017 568,1020 L754,1048 L756,1048 L756,1154 L727,1152 L727,1080 Q727,1066 715,1063 L568,1038 Q556,1035 545,1028 L505,1003 Q497,998 497,988 L497,858 Q497,846 506,844 L520,841 Q529,839 529,832 L529,787 L513,781 L513,761 L520,758 L520,751 L513,751 L513,739 L529,733 L529,716 Q529,709 520,708 L506,704 Q497.5,701 497.5,690 L497.5,566 Q498,556 506,549 L527,533 C528,530.3 525.1,539.3 530,525 C534.9,510.7 530.9,518 541.7,490 C552.5,462 547.7,471 562.5,441 C577.3,411 565.8,430.3 586,400 C606.2,369.7 603.3,374.7 623,350 C642.7,325.3 634.3,337.7 645,326 C655.7,314.3 647.5,323.3 655,315 C662.5,306.7 659.2,309.3 667.5,301 C675.8,292.7 671.7,297 680,290 C688.3,283 681.8,288.3 692.5,280 C703.2,271.7 705.5,270 712,265 Q724,260 727.5,248 Z" fill="none" stroke="#4d4d4f" stroke-width="0.9"/>
<path d="M743,268 C738.7,271 738.5,270.7 730,277 C721.5,283.3 725.8,280.3 717.5,287 C709.2,293.7 713.3,289.8 705,297 C696.7,304.2 700.8,300.8 692.5,308.5 C684.2,316.2 695,306.2 680,320 C665,333.8 671.5,323.3 647.5,350 C623.5,376.7 628.8,369.7 608,400 C587.2,430.3 600.4,411 585,441 C569.6,471 572.4,465.7 561.7,490 C551,514.3 557.2,502.7 553,514 C548.8,525.3 550.3,520.7 549,524" fill="none" stroke="#6d6e71" stroke-width="1.8"/>
<path d="M737.3,277 C736.9,280.7 737.1,280.8 736,288 C734.9,295.2 736,292.5 734,298.7 C732,304.9 734.7,300.6 730,306.7 C725.3,312.8 730,308.2 720,317 C710,325.8 712.3,322 700,333 C687.7,344 696.3,335.7 683,350 C669.7,364.3 674.3,359.3 660,376 C645.7,392.7 656,378.3 640,400 C624,421.7 626.3,417.7 612,441 C597.7,464.3 605,453.7 597,470 C589,486.3 594,471 588,490 C582,509 582,514.7 579,527" fill="none" stroke="#5f6062" stroke-width="2.8"/>
<path d="M737.3,277 C736.9,280.7 737.1,280.8 736,288 C734.9,295.2 736,292.5 734,298.7 C732,304.9 734.7,300.6 730,306.7 C725.3,312.8 730,308.2 720,317 C710,325.8 712.3,322 700,333 C687.7,344 696.3,335.7 683,350 C669.7,364.3 674.3,359.3 660,376 C645.7,392.7 656,378.3 640,400 C624,421.7 626.3,417.7 612,441 C597.7,464.3 605,453.7 597,470 C589,486.3 594,471 588,490 C582,509 582,514.7 579,527" fill="none" stroke="#aeb0b3" stroke-width="1.2"/>
<path d="M750.2,277 C749.8,280.7 750,280.8 748.9,288 C747.8,295.2 748.9,292.5 746.9,298.7 C744.9,304.9 747.6,300.6 742.9,306.7 C738.2,312.8 742.9,308.2 732.9,317 C722.9,325.8 725.2,322 712.9,333 C700.6,344 709.2,335.7 695.9,350 C682.6,364.3 687.2,359.3 672.9,376 C658.6,392.7 668.9,378.3 652.9,400 C636.9,421.7 639.2,417.7 624.9,441 C610.6,464.3 617.9,453.7 609.9,470 C601.9,486.3 606.9,471 600.9,490 C594.9,509 594.9,514.7 591.9,527" fill="none" stroke="#5f6062" stroke-width="2.8"/>
<path d="M750.2,277 C749.8,280.7 750,280.8 748.9,288 C747.8,295.2 748.9,292.5 746.9,298.7 C744.9,304.9 747.6,300.6 742.9,306.7 C738.2,312.8 742.9,308.2 732.9,317 C722.9,325.8 725.2,322 712.9,333 C700.6,344 709.2,335.7 695.9,350 C682.6,364.3 687.2,359.3 672.9,376 C658.6,392.7 668.9,378.3 652.9,400 C636.9,421.7 639.2,417.7 624.9,441 C610.6,464.3 617.9,453.7 609.9,470 C601.9,486.3 606.9,471 600.9,490 C594.9,509 594.9,514.7 591.9,527" fill="none" stroke="#aeb0b3" stroke-width="1.2"/>
<path d="M763.1,277 C762.7,280.7 762.9,280.8 761.8,288 C760.7,295.2 761.8,292.5 759.8,298.7 C757.8,304.9 760.5,300.6 755.8,306.7 C751.1,312.8 755.8,308.2 745.8,317 C735.8,325.8 738.1,322 725.8,333 C713.5,344 722.1,335.7 708.8,350 C695.5,364.3 700.1,359.3 685.8,376 C671.5,392.7 681.8,378.3 665.8,400 C649.8,421.7 652.1,417.7 637.8,441 C623.5,464.3 630.8,453.7 622.8,470 C614.8,486.3 619.8,471 613.8,490 C607.8,509 607.8,514.7 604.8,527" fill="none" stroke="#5f6062" stroke-width="2.8"/>
<path d="M763.1,277 C762.7,280.7 762.9,280.8 761.8,288 C760.7,295.2 761.8,292.5 759.8,298.7 C757.8,304.9 760.5,300.6 755.8,306.7 C751.1,312.8 755.8,308.2 745.8,317 C735.8,325.8 738.1,322 725.8,333 C713.5,344 722.1,335.7 708.8,350 C695.5,364.3 700.1,359.3 685.8,376 C671.5,392.7 681.8,378.3 665.8,400 C649.8,421.7 652.1,417.7 637.8,441 C623.5,464.3 630.8,453.7 622.8,470 C614.8,486.3 619.8,471 613.8,490 C607.8,509 607.8,514.7 604.8,527" fill="none" stroke="#aeb0b3" stroke-width="1.2"/>
<path d="M776,277 C775.6,280.7 775.8,280.8 774.7,288 C773.6,295.2 774.7,292.5 772.7,298.7 C770.7,304.9 773.4,300.6 768.7,306.7 C764,312.8 768.7,308.2 758.7,317 C748.7,325.8 751,322 738.7,333 C726.4,344 735,335.7 721.7,350 C708.4,364.3 713,359.3 698.7,376 C684.4,392.7 694.7,378.3 678.7,400 C662.7,421.7 665,417.7 650.7,441 C636.4,464.3 643.7,453.7 635.7,470 C627.7,486.3 632.7,471 626.7,490 C620.7,509 620.7,514.7 617.7,527" fill="none" stroke="#5f6062" stroke-width="2.8"/>
<path d="M776,277 C775.6,280.7 775.8,280.8 774.7,288 C773.6,295.2 774.7,292.5 772.7,298.7 C770.7,304.9 773.4,300.6 768.7,306.7 C764,312.8 768.7,308.2 758.7,317 C748.7,325.8 751,322 738.7,333 C726.4,344 735,335.7 721.7,350 C708.4,364.3 713,359.3 698.7,376 C684.4,392.7 694.7,378.3 678.7,400 C662.7,421.7 665,417.7 650.7,441 C636.4,464.3 643.7,453.7 635.7,470 C627.7,486.3 632.7,471 626.7,490 C620.7,509 620.7,514.7 617.7,527" fill="none" stroke="#aeb0b3" stroke-width="1.2"/>
<path d="M788.9,277 C788.5,280.7 788.7,280.8 787.6,288 C786.5,295.2 787.6,292.5 785.6,298.7 C783.6,304.9 786.3,300.6 781.6,306.7 C776.9,312.8 781.6,308.2 771.6,317 C761.6,325.8 763.9,322 751.6,333 C739.3,344 747.9,335.7 734.6,350 C721.3,364.3 725.9,359.3 711.6,376 C697.3,392.7 707.6,378.3 691.6,400 C675.6,421.7 677.9,417.7 663.6,441 C649.3,464.3 656.6,453.7 648.6,470 C640.6,486.3 645.6,471 639.6,490 C633.6,509 633.6,514.7 630.6,527" fill="none" stroke="#5f6062" stroke-width="2.8"/>
<path d="M788.9,277 C788.5,280.7 788.7,280.8 787.6,288 C786.5,295.2 787.6,292.5 785.6,298.7 C783.6,304.9 786.3,300.6 781.6,306.7 C776.9,312.8 781.6,308.2 771.6,317 C761.6,325.8 763.9,322 751.6,333 C739.3,344 747.9,335.7 734.6,350 C721.3,364.3 725.9,359.3 711.6,376 C697.3,392.7 707.6,378.3 691.6,400 C675.6,421.7 677.9,417.7 663.6,441 C649.3,464.3 656.6,453.7 648.6,470 C640.6,486.3 645.6,471 639.6,490 C633.6,509 633.6,514.7 630.6,527" fill="none" stroke="#aeb0b3" stroke-width="1.2"/>
<path d="M990,238.5 C968.3,240.7 968.3,238.8 925,245 C881.7,251.2 890.7,249.1 860,257 C829.3,264.9 847.7,261 833,268.7 C818.3,276.4 829.3,273.2 816,280 C802.7,286.8 806.7,282.7 793,289 C779.3,295.3 788.3,291.3 775,299 C761.7,306.7 769,301.3 753,312 C737,322.7 744.7,318.3 727,331 C709.3,343.7 725,327 700,350 C675,373 678.7,369.7 652,400 C625.3,430.3 635.3,411 620,441 C604.7,471 613.3,461 606,490 C598.7,519 600.7,515.3 598,528 L570,700 L640,960 L770,1050 L770,1075 L990,1075 Z" fill="#b49d8a"/>
<clipPath id="cpIn"><path d="M700,380 L990,380 L990,877 L700,877Z"/></clipPath>
<g clip-path="url(#cpIn)">
<ellipse cx="981" cy="656" rx="246" ry="262" fill="#7d7e82"/>
<path d="M858,380 L990,380 L990,900 L852,900 L853.5,876 Q859.5,790 859,760 L858,520 Q857,470 855,430Z" fill="#bcbdc1"/>
<path d="M850,380 L858,380 L855,430 Q857,470 858,520 L859,760 Q859.5,790 853.5,876 L846.5,876 Q852,800 852,770 L852,440Z" fill="#939598"/>
<path d="M853.8,436 L853.8,770 Q853.8,800 848,874" fill="none" stroke="#58595b" stroke-width="0.9" stroke-dasharray="5 2.6"/>
<path d="M855,430 Q857,470 858,520 L859,760 Q859.5,790 853.5,876" fill="none" stroke="#3a3a3c" stroke-width="0.8"/>
<ellipse cx="1058" cy="655" rx="152" ry="152.2" fill="#808285" stroke="#333335" stroke-width="1"/>
<ellipse cx="1058" cy="655" rx="144" ry="145.8" fill="#a7a9ac" stroke="#333335" stroke-width="1"/>
<ellipse cx="1058" cy="655" rx="134" ry="139.3" fill="#cdced0" stroke="#333335" stroke-width="1"/>
<ellipse cx="1058" cy="655" rx="123.5" ry="135.4" fill="#414042" stroke="#333335" stroke-width="1"/>
<ellipse cx="975" cy="655" rx="7" ry="26" fill="#231f20"/>
</g>
<path d="M581,528 L640,528 L640,700 L551.7,700 L551.7,669 L553.5,650 L557.5,620 L563,590 L570,560Z" fill="url(#gOilL)"/>
<path d="M551.7,669 L600,669 L600,690 L553,690Z" fill="url(#gNeck)" stroke="#5a4030" stroke-width="0.6"/>
<path d="M555,689.5 L640,689.5 L640,733 L555,733 Q547.5,733 547.5,725 L547.5,697.5 Q547.5,689.5 555,689.5Z" fill="#8a6e5a" stroke="#5a4030" stroke-width="0.8"/>
<path d="M548,724 L640,724 L640,733 L555,733 Q547.5,733 547.5,725Z" fill="#7b604d" stroke="#5a4030" stroke-width="0.6"/>
<path d="M555,753 L660,753 L660,799 L555,799 Q547.5,799 547.5,791 L547.5,761 Q547.5,753 555,753Z" fill="#8a6e5a" stroke="#5a4030" stroke-width="0.8"/>
<path d="M548,789 L660,789 L660,799 L555,799 Q547.5,799 547.5,791Z" fill="#7b604d" stroke="#5a4030" stroke-width="0.6"/>
<path d="M555,816 L690,816 L690,863 L555,863 Q547.5,863 547.5,855 L547.5,824 Q547.5,816 555,816Z" fill="#8a6e5a" stroke="#5a4030" stroke-width="0.8"/>
<path d="M548,851 L690,851 L690,863 L555,863 Q547.5,863 547.5,855Z" fill="#7b604d" stroke="#5a4030" stroke-width="0.6"/>
<path d="M555,881 L720,881 L720,931 L555,931 Q547.5,931 547.5,923 L547.5,889 Q547.5,881 555,881Z" fill="#8a6e5a" stroke="#5a4030" stroke-width="0.8"/>
<path d="M548,920 L720,920 L720,931 L555,931 Q547.5,931 547.5,923Z" fill="#7b604d" stroke="#5a4030" stroke-width="0.6"/>
<path d="M558,733 L562.5,752 L640,752 L640,733Z" fill="url(#gNeck)" stroke="#5a4030" stroke-width="0.6"/>
<path d="M573,799 L578,815.5 L660,815.5 L660,799Z" fill="url(#gNeck)" stroke="#5a4030" stroke-width="0.6"/>
<path d="M590,863 L596,880.5 L690,880.5 L690,863Z" fill="url(#gNeck)" stroke="#5a4030" stroke-width="0.6"/>
<path d="M584,931 L584,946 L700,946 L700,931Z" fill="url(#gNeck)" stroke="#5a4030" stroke-width="0.6"/>
<path d="M556,948 Q548,949 548,958 L548,998 Q549,1017 572,1021 L755,1047.5 L790,1047.5 Q800,1046 804,1036 L816,1000 L816,900 L700,880 L669,943 L669,957 L658,943.5 L600,945 Z" fill="url(#gSump2)" stroke="#5a4030" stroke-width="0.8"/>
<path d="M556,948 L600,945 L658,943.5 L669,957 L640,960 L620,961 Q607,957 598,956.5 L548,958 Q548,949 556,948Z" fill="#7b604d" stroke="#5a4030" stroke-width="0.6"/>
<path d="M804,1036 Q800,1046 790,1047.5 L756,1047.5 L778,1068 Q790,1071 800,1066 Q808,1060 812,1040 L818,1020 L812,1010Z" fill="#a18671" stroke="#7a5f4c" stroke-width="0.6"/>
<path d="M763.8,1070 Q870,1075 986.5,1072 L986.5,1126 L870,1126 Q862,1134 852,1144 Q842,1158 832,1162.5 L796,1163 Q782,1163 776,1154 Q770,1148 763.8,1147Z" fill="#c8c9cb" stroke="#4d4d4f" stroke-width="0.9"/>
<path d="M907.5,1126 Q901,1124 901,1116 L900.5,1098 Q899,1089.5 890,1089.5 L877,1090 Q866,1092 865,1104 L863,1118 Q860,1126 853,1126 Q846,1125 842,1120 Q838,1117.5 830,1118 L814,1118 Q806,1119 805.5,1128 L803.5,1148 Q802,1161 794,1163 L832,1162.5 Q842,1158 852,1144 Q862,1134 870,1126Z" fill="#bbbdc0" stroke="#4d4d4f" stroke-width="0.8"/>
<path d="M636,654 A345,352 0 1,0 1326,654 A345,352 0 1,0 636,654 Z M737.5,656 A243.5,259.5 0 1,0 1224.5,656 A243.5,259.5 0 1,0 737.5,656 Z" fill="#6a5f4d" fill-rule="evenodd"/>
<ellipse cx="981" cy="656" rx="243.5" ry="259.5" fill="none" stroke="#523f2c" stroke-width="1"/>
<ellipse cx="981" cy="656" rx="252" ry="266" fill="none" stroke="#523f2c" stroke-width="1"/>
<ellipse cx="981" cy="656" rx="261" ry="270.5" fill="none" stroke="#523f2c" stroke-width="1"/>
<ellipse cx="981" cy="656" rx="268.5" ry="274.5" fill="none" stroke="#523f2c" stroke-width="1"/>
<ellipse cx="981" cy="656" rx="277" ry="279" fill="none" stroke="#523f2c" stroke-width="1"/>
<path d="M673,653 A308,305 0 1,0 1289,653 A308,305 0 1,0 673,653 Z M680,653 A301,298 0 1,0 1282,653 A301,298 0 1,0 680,653 Z" fill="#746959" fill-rule="evenodd" stroke="#523f2c" stroke-width="0.9"/>
<g stroke="#523f2c" stroke-width="0.95" stroke-linejoin="round"><path d="M974,342.3 L982.3,327.6 L992.9,310.8 L1003.7,294.3 L1015,278 L1026.5,262.1 L1034.8,251.1 L1022.4,249 L1017.9,255.3 L1006.3,271.2 L995.1,287.5 L984.2,304 L973.7,320.8 L966,334.7Z" fill="#5f5545"/><path d="M977.3,346.2 L986.5,330.8 L997.2,314.2 L1008.3,297.8 L1019.7,281.7 L1031.5,265.9 L1042.3,252 L1034.8,251.1 L1026.5,262.1 L1015,278 L1003.7,294.3 L992.9,310.8 L982.3,327.6 L974,342.3Z" fill="#5f5545"/><path d="M988.7,357.6 L1000,341.4 L1011.6,325.5 L1023.6,309.9 L1035.9,294.5 L1048.6,279.4 L1061.7,264.6 L1042.3,252 L1031.5,265.9 L1019.7,281.7 L1008.3,297.8 L997.2,314.2 L986.5,330.8 L977.3,346.2Z" fill="#7c7464"/><path d="M997.3,364.4 L1008.6,348.2 L1020.3,332.3 L1032.3,316.7 L1044.6,301.3 L1057.3,286.2 L1070.3,271.4 L1061.7,264.6 L1048.6,279.4 L1035.9,294.5 L1023.6,309.9 L1011.6,325.5 L1000,341.4 L988.7,357.6Z" fill="#a7a799"/>
<path d="M927.6,344.1 L933.5,328.9 L941.3,311.3 L949.5,293.9 L958.1,276.7 L967.1,259.8 L973.4,248.3 L960.9,248 L957.6,254.3 L948.6,271.2 L940,288.4 L931.8,305.7 L924,323.3 L918.6,337.7Z" fill="#5f5545"/><path d="M931.4,347.5 L938.1,331.5 L946.1,314 L954.5,296.8 L963.3,279.8 L972.5,263 L981.1,248.1 L973.4,248.3 L967.1,259.8 L958.1,276.7 L949.5,293.9 L941.3,311.3 L933.5,328.9 L927.6,344.1Z" fill="#5f5545"/><path d="M944.2,357.2 L952.9,340.1 L961.9,323.2 L971.4,306.6 L981.2,290.1 L991.4,273.9 L1001.9,257.9 L981.1,248.1 L972.5,263 L963.3,279.8 L954.5,296.8 L946.1,314 L938.1,331.5 L931.4,347.5Z" fill="#7c7464"/><path d="M953.8,362.8 L962.4,345.7 L971.5,328.8 L980.9,312.1 L990.7,295.7 L1000.9,279.5 L1011.5,263.5 L1001.9,257.9 L991.4,273.9 L981.2,290.1 L971.4,306.6 L961.9,323.2 L952.9,340.1 L944.2,357.2Z" fill="#a7a799"/>
<path d="M884.4,355.8 L887.9,339.8 L892.9,321.1 L898.2,302.5 L903.9,284.1 L910,265.8 L914.3,253.2 L901.7,254.9 L899.6,261.8 L893.5,280.1 L887.9,298.6 L882.6,317.2 L877.6,335.9 L874.5,351Z" fill="#5f5545"/><path d="M888.7,358.6 L892.8,341.7 L898,323 L903.6,304.5 L909.5,286.2 L915.8,268 L921.8,251.8 L914.3,253.2 L910,265.8 L903.9,284.1 L898.2,302.5 L892.9,321.1 L887.9,339.8 L884.4,355.8Z" fill="#5f5545"/><path d="M902.9,366 L908.8,347.7 L915,329.5 L921.7,311.4 L928.7,293.5 L936.1,275.7 L943.9,258 L921.8,251.8 L915.8,268 L909.5,286.2 L903.6,304.5 L898,323 L892.8,341.7 L888.7,358.6Z" fill="#7c7464"/><path d="M913.1,370 L919,351.6 L925.3,333.4 L932,315.3 L939,297.4 L946.4,279.6 L954.1,262 L943.9,258 L936.1,275.7 L928.7,293.5 L921.7,311.4 L915,329.5 L908.8,347.7 L902.9,366Z" fill="#a7a799"/>
<path d="M841.1,373.2 L842.5,356.8 L845,337.5 L847.8,318.3 L850.9,299.2 L854.4,280.2 L856.8,267.1 L844.5,270.4 L843.4,277.6 L840,296.7 L836.9,315.8 L834.2,335 L831.8,354.3 L830.6,369.8Z" fill="#5f5545"/><path d="M845.8,375.3 L847.7,357.9 L850.3,338.7 L853.4,319.6 L856.7,300.5 L860.4,281.6 L864.1,264.6 L856.8,267.1 L854.4,280.2 L850.9,299.2 L847.8,318.3 L845,337.5 L842.5,356.8 L841.1,373.2Z" fill="#5f5545"/><path d="M860.6,380.8 L864.1,361.7 L867.9,342.8 L872.1,323.9 L876.6,305.1 L881.4,286.4 L886.6,267.8 L864.1,264.6 L860.4,281.6 L856.7,300.5 L853.4,319.6 L850.3,338.7 L847.7,357.9 L845.8,375.3Z" fill="#7c7464"/><path d="M871.4,383.2 L874.8,364.2 L878.6,345.2 L882.8,326.4 L887.3,307.6 L892.2,288.9 L897.4,270.2 L886.6,267.8 L881.4,286.4 L876.6,305.1 L872.1,323.9 L867.9,342.8 L864.1,361.7 L860.6,380.8Z" fill="#a7a799"/>
<path d="M801.3,394.7 L800.5,378.7 L800.3,359.7 L800.4,340.7 L800.8,321.8 L801.5,302.8 L802,289.9 L790.1,294.9 L790.2,301.8 L789.6,320.8 L789.2,339.7 L789.2,358.7 L789.5,377.7 L790.4,392.7Z" fill="#5f5545"/><path d="M806.2,396.2 L805.7,379.1 L805.8,360.2 L806.1,341.2 L806.8,322.3 L807.8,303.4 L808.9,286.5 L802,289.9 L801.5,302.8 L800.8,321.8 L800.4,340.7 L800.3,359.7 L800.5,378.7 L801.3,394.7Z" fill="#5f5545"/><path d="M821.5,399.5 L822.4,380.6 L823.6,361.7 L825.1,342.9 L826.9,324.1 L829.1,305.3 L831.5,286.5 L808.9,286.5 L807.8,303.4 L806.8,322.3 L806.1,341.2 L805.8,360.2 L805.7,379.1 L806.2,396.2Z" fill="#7c7464"/><path d="M832.5,400.5 L833.4,381.6 L834.6,362.7 L836.1,343.9 L837.9,325 L840,306.2 L842.5,287.5 L831.5,286.5 L829.1,305.3 L826.9,324.1 L825.1,342.9 L823.6,361.7 L822.4,380.6 L821.5,399.5Z" fill="#a7a799"/>
<path d="M765.9,420.4 L763,405.2 L760.2,387 L757.7,368.7 L755.4,350.4 L753.4,332.2 L751.9,319.9 L740.7,326.5 L741.9,332.8 L744,351.1 L746.4,369.3 L749,387.6 L752,405.8 L754.9,420Z" fill="#5f5545"/><path d="M771,421.1 L768.3,404.9 L765.7,386.7 L763.4,368.4 L761.4,350.1 L759.6,331.8 L758.2,315.5 L751.9,319.9 L753.4,332.2 L755.4,350.4 L757.7,368.7 L760.2,387 L763,405.2 L765.9,420.4Z" fill="#5f5545"/><path d="M786.5,422.3 L784.8,404 L783.4,385.7 L782.3,367.4 L781.4,349 L780.8,330.7 L780.5,312.3 L758.2,315.5 L759.6,331.8 L761.4,350.1 L763.4,368.4 L765.7,386.7 L768.3,404.9 L771,421.1Z" fill="#7c7464"/><path d="M797.5,421.7 L795.8,403.4 L794.4,385.1 L793.3,366.8 L792.4,348.4 L791.8,330.1 L791.5,311.7 L780.5,312.3 L780.8,330.7 L781.4,349 L782.3,367.4 L783.4,385.7 L784.8,404 L786.5,422.3Z" fill="#a7a799"/>
<path d="M734.1,451.9 L729.4,437.9 L724.4,420.9 L719.5,403.9 L714.9,386.8 L710.5,369.6 L707.5,358.4 L697.1,366.5 L699.1,371.8 L703.6,388.9 L708.4,406 L713.3,423 L718.5,440 L723.1,453Z" fill="#5f5545"/><path d="M739.2,452 L734.6,436.9 L729.8,419.9 L725.2,402.8 L720.8,385.6 L716.6,368.5 L713.1,353.2 L707.5,358.4 L710.5,369.6 L714.9,386.8 L719.5,403.9 L724.4,420.9 L729.4,437.9 L734.1,451.9Z" fill="#5f5545"/><path d="M754.6,451 L750.7,433.8 L747.1,416.5 L743.6,399.2 L740.4,381.9 L737.4,364.5 L734.6,347 L713.1,353.2 L716.6,368.5 L720.8,385.6 L725.2,402.8 L729.8,419.9 L734.6,436.9 L739.2,452Z" fill="#7c7464"/><path d="M765.4,449 L761.5,431.7 L757.9,414.5 L754.4,397.2 L751.2,379.8 L748.2,362.4 L745.4,345 L734.6,347 L737.4,364.5 L740.4,381.9 L743.6,399.2 L747.1,416.5 L750.7,433.8 L754.6,451Z" fill="#a7a799"/>
<path d="M706.7,490.3 L700.7,477.4 L693.7,461.5 L686.9,445.6 L680,429.8 L673.3,413.8 L668.6,403.6 L659.2,413.1 L662.2,417.6 L669.1,433.4 L676,449.3 L683,465.1 L690.1,480.9 L696,492.9Z" fill="#5f5545"/><path d="M711.8,489.7 L705.7,475.7 L698.9,459.8 L692.3,443.8 L685.7,427.8 L679.2,411.8 L673.4,397.7 L668.6,403.6 L673.3,413.8 L680,429.8 L686.9,445.6 L693.7,461.5 L700.7,477.4 L706.7,490.3Z" fill="#5f5545"/><path d="M726.8,486.8 L721.1,470.5 L715.5,454.2 L710,437.9 L704.5,421.5 L699.1,405.1 L693.8,388.8 L673.4,397.7 L679.2,411.8 L685.7,427.8 L692.3,443.8 L698.9,459.8 L705.7,475.7 L711.8,489.7Z" fill="#7c7464"/><path d="M737.2,483.2 L731.5,467 L725.9,450.7 L720.4,434.4 L714.9,418 L709.5,401.6 L704.2,385.2 L693.8,388.8 L699.1,405.1 L704.5,421.5 L710,437.9 L715.5,454.2 L721.1,470.5 L726.8,486.8Z" fill="#a7a799"/>
<path d="M688.1,533.4 L680.4,521.6 L671.3,507.2 L662,492.8 L652.8,478.5 L643.4,464.2 L636.8,455.3 L629.1,466.2 L633,469.8 L642.5,484 L651.9,498.3 L661.3,512.5 L670.6,526.8 L677.9,537.6Z" fill="#5f5545"/><path d="M693,531.9 L685,519.1 L676.1,504.6 L667.1,490.1 L658.1,475.7 L648.9,461.3 L640.7,448.7 L636.8,455.3 L643.4,464.2 L652.8,478.5 L662,492.8 L671.3,507.2 L680.4,521.6 L688.1,533.4Z" fill="#5f5545"/><path d="M707.1,526.6 L699.3,511.5 L691.4,496.4 L683.4,481.4 L675.4,466.4 L667.3,451.5 L659.1,436.6 L640.7,448.7 L648.9,461.3 L658.1,475.7 L667.1,490.1 L676.1,504.6 L685,519.1 L693,531.9Z" fill="#7c7464"/><path d="M716.9,521.4 L709,506.3 L701.1,491.3 L693.1,476.3 L685.1,461.3 L677,446.3 L668.9,431.4 L659.1,436.6 L667.3,451.5 L675.4,466.4 L683.4,481.4 L691.4,496.4 L699.3,511.5 L707.1,526.6Z" fill="#a7a799"/>
<path d="M675.1,575.1 L666.1,564.9 L655.2,552.5 L644.1,540.1 L632.8,527.9 L621.4,515.9 L610.9,505.6 L604.4,519.3 L610.9,523.8 L622.6,535.7 L634.1,547.7 L645.5,559.8 L656.7,572.1 L665.3,581.3Z" fill="#5f5545"/><path d="M679.9,572.7 L670.5,561.6 L659.9,548.9 L649,536.4 L637.9,524.1 L626.7,511.8 L615,499.3 L610.9,505.6 L621.4,515.9 L632.8,527.9 L644.1,540.1 L655.2,552.5 L666.1,564.9 L675.1,575.1Z" fill="#6b6252"/><path d="M691.4,566.5 L681.8,553 L672.1,539.7 L662.1,526.4 L652,513.4 L641.7,500.4 L631.2,487.6 L615,499.3 L626.7,511.8 L637.9,524.1 L649,536.4 L659.9,548.9 L670.5,561.6 L679.9,572.7Z" fill="#7c7464"/><path d="M700.2,557.3 L691.9,545.4 L682.1,532 L672.3,518.7 L662.2,505.6 L652,492.6 L641.6,479.8 L640.8,480.4 L651.2,493.2 L661.4,506.2 L671.5,519.3 L681.4,532.6 L691.1,546 L700.6,559.5Z" fill="#7c7464"/><path d="M700.6,559.5 L691.1,546 L681.4,532.6 L671.5,519.3 L661.4,506.2 L651.2,493.2 L640.8,480.4 L631.2,487.6 L641.7,500.4 L652,513.4 L662.1,526.4 L672.1,539.7 L681.8,553 L691.4,566.5Z" fill="#a7a799"/>
<path d="M668.9,621 L658.7,613 L646,603.3 L633,593.9 L619.9,584.7 L606.5,575.8 L591.4,565.8 L587.6,582.3 L597,586.7 L610.7,595.3 L624.1,604.1 L637.4,613.1 L650.4,622.4 L660.3,629.3Z" fill="#5f5545"/><path d="M673.3,617.5 L662.5,608.6 L650,598.7 L637.3,589 L624.4,579.6 L611.2,570.4 L595.6,559.5 L591.4,565.8 L606.5,575.8 L619.9,584.7 L633,593.9 L646,603.3 L658.7,613 L668.9,621Z" fill="#6b6252"/><path d="M682,610.5 L670.5,599.5 L658.8,588.7 L646.9,578.1 L634.7,567.8 L622.3,557.7 L609.7,547.9 L595.6,559.5 L611.2,570.4 L624.4,579.6 L637.3,589 L650,598.7 L662.5,608.6 L673.3,617.5Z" fill="#7c7464"/><path d="M689.8,598.7 L679.9,588.8 L668.2,577.9 L656.4,567.2 L644.3,556.7 L632.1,546.6 L619.6,536.6 L618.3,538.1 L630.8,548.1 L643,558.3 L655.1,568.7 L666.9,579.4 L678.5,590.3 L690,601.5Z" fill="#7c7464"/><path d="M690,601.5 L678.5,590.3 L666.9,579.4 L655.1,568.7 L643,558.3 L630.8,548.1 L618.3,538.1 L609.7,547.9 L622.3,557.7 L634.7,567.8 L646.9,578.1 L658.8,588.7 L670.5,599.5 L682,610.5Z" fill="#a7a799"/>
<path d="M667.5,665.9 L656.6,659.4 L642.9,651.7 L629,644.3 L614.9,637.4 L600.5,630.7 L582.1,622 L581.1,639.8 L592.4,643.3 L607,649.5 L621.4,656.1 L635.6,663 L649.6,670.3 L659.9,675.8Z" fill="#5f5545"/><path d="M671.5,661.6 L659.9,654.3 L646.4,646.3 L632.7,638.7 L618.7,631.4 L604.5,624.5 L585.9,615.2 L582.1,622 L600.5,630.7 L614.9,637.4 L629,644.3 L642.9,651.7 L656.6,659.4 L667.5,665.9Z" fill="#6b6252"/><path d="M678.6,654.3 L666,644.9 L653.1,635.9 L640,627.3 L626.7,619.1 L613.1,611.2 L599.3,603.7 L585.9,615.2 L604.5,624.5 L618.7,631.4 L632.7,638.7 L646.4,646.3 L659.9,654.3 L671.5,661.6Z" fill="#7c7464"/><path d="M685.1,640.6 L674.2,632.2 L661.4,623.1 L648.4,614.3 L635.2,605.9 L621.7,597.9 L608,590.2 L606.7,592.3 L620.4,600 L633.8,608 L647.1,616.4 L660.1,625.2 L672.9,634.3 L685.4,643.7Z" fill="#7c7464"/><path d="M685.4,643.7 L672.9,634.3 L660.1,625.2 L647.1,616.4 L633.8,608 L620.4,600 L606.7,592.3 L599.3,603.7 L613.1,611.2 L626.7,619.1 L640,627.3 L653.1,635.9 L666,644.9 L678.6,654.3Z" fill="#a7a799"/>
<path d="M673.9,712.6 L662.4,708 L647.9,702.7 L633.2,698 L618.3,693.7 L603.2,689.9 L581.5,683.8 L584,702.3 L597.2,704.1 L612.5,707.5 L627.5,711.3 L642.4,715.6 L657.1,720.5 L667.9,724.2Z" fill="#5f5545"/><path d="M677.1,707.5 L664.8,702.2 L650.5,696.6 L635.9,691.5 L621.2,686.9 L606.2,682.8 L584.6,676.4 L581.5,683.8 L603.2,689.9 L618.3,693.7 L633.2,698 L647.9,702.7 L662.4,708 L673.9,712.6Z" fill="#6b6252"/><path d="M682.5,700 L668.8,692.8 L654.9,686.2 L640.8,680 L626.5,674.3 L612,669.1 L597.3,664.4 L584.6,676.4 L606.2,682.8 L621.2,686.9 L635.9,691.5 L650.5,696.6 L664.8,702.2 L677.1,707.5Z" fill="#7c7464"/><path d="M686.9,684.5 L675.1,677.9 L661.3,671.1 L647.2,664.8 L633,659 L618.6,653.6 L603.9,648.8 L602.7,651.6 L617.4,656.4 L631.8,661.7 L646.1,667.6 L660.1,673.9 L673.9,680.7 L687.5,688Z" fill="#7c7464"/><path d="M687.5,688 L673.9,680.7 L660.1,673.9 L646.1,667.6 L631.8,661.7 L617.4,656.4 L602.7,651.6 L597.3,664.4 L612,669.1 L626.5,674.3 L640.8,680 L654.9,686.2 L668.8,692.8 L682.5,700Z" fill="#a7a799"/>
<path d="M686.4,755.7 L674,753.4 L658.7,750.7 L643.2,748.4 L627.7,746.5 L612.1,744.9 L589.6,742 L594.4,760.1 L608.5,760.4 L624.2,761.4 L639.9,762.8 L655.5,764.5 L671,766.6 L682.5,768.1Z" fill="#5f5545"/><path d="M688.7,750 L675.4,747.2 L660.2,744.2 L644.8,741.6 L629.3,739.3 L613.8,737.4 L591.4,734.3 L589.6,742 L612.1,744.9 L627.7,746.5 L643.2,748.4 L658.7,750.7 L674,753.4 L686.4,755.7Z" fill="#6b6252"/><path d="M692.6,742.2 L677.6,737.9 L662.5,734 L647.4,730.4 L632.1,727.2 L616.8,724.3 L601.5,721.7 L591.4,734.3 L613.8,737.4 L629.3,739.3 L644.8,741.6 L660.2,744.2 L675.4,747.2 L688.7,750Z" fill="#7c7464"/><path d="M694.4,725.4 L681.4,721.4 L666.4,717.2 L651.3,713.3 L636.1,709.9 L620.9,706.7 L604.6,703.7 L604.5,708.3 L619.9,711 L635.2,714.1 L650.3,717.5 L665.5,721.2 L680.5,725.3 L695.4,729.8Z" fill="#7c7464"/><path d="M695.4,729.8 L680.5,725.3 L665.5,721.2 L650.3,717.5 L635.2,714.1 L619.9,711 L604.5,708.3 L601.5,721.7 L616.8,724.3 L632.1,727.2 L647.4,730.4 L662.5,734 L677.6,737.9 L692.6,742.2Z" fill="#a7a799"/>
<path d="M705.2,797.1 L692.3,797.4 L676.4,797.7 L660.5,798.2 L644.6,798.9 L628.7,799.7 L605.8,800.4 L613.1,817.8 L628.1,816 L644,814.5 L659.9,813.2 L675.8,812 L691.7,811 L703.6,810.1Z" fill="#5f5545"/><path d="M706.4,791.2 L692.5,791 L676.7,791 L660.8,791.2 L644.9,791.5 L629.1,792 L606.2,792.4 L605.8,800.4 L628.7,799.7 L644.6,798.9 L660.5,798.2 L676.4,797.7 L692.3,797.4 L705.2,797.1Z" fill="#6b6252"/><path d="M708.7,783.2 L692.9,782.2 L677.1,781.4 L661.3,780.7 L645.4,780.2 L629.6,779.9 L613.7,779.7 L606.2,792.4 L629.1,792 L644.9,791.5 L660.8,791.2 L676.7,791 L692.5,791 L706.4,791.2Z" fill="#7c7464"/><path d="M707.5,765.7 L693.7,764.4 L677.9,763.2 L662,762.2 L646.2,761.4 L630.4,760.7 L612.5,760.2 L614.3,766.3 L630.1,766.6 L646,767 L661.8,767.7 L677.6,768.5 L693.5,769.6 L709.3,770.8Z" fill="#7c7464"/><path d="M709.3,770.8 L693.5,769.6 L677.6,768.5 L661.8,767.7 L646,767 L630.1,766.6 L614.3,766.3 L613.7,779.7 L629.6,779.9 L645.4,780.2 L661.3,780.7 L677.1,781.4 L692.9,782.2 L708.7,783.2Z" fill="#a7a799"/>
<path d="M728.6,839.3 L716,841.4 L700.5,843.8 L684.9,846.2 L669.3,848.5 L653.7,850.9 L631.7,853.8 L640.1,870.2 L655.1,867.2 L670.6,864.2 L686.2,861.1 L701.7,858.1 L717.2,855 L728.7,852.3Z" fill="#5f5545"/><path d="M729.1,833.2 L715.5,835.1 L699.9,837.2 L684.3,839.2 L668.7,841.2 L653.1,843.3 L631,845.9 L631.7,853.8 L653.7,850.9 L669.3,848.5 L684.9,846.2 L700.5,843.8 L716,841.4 L728.6,839.3Z" fill="#6b6252"/><path d="M730.5,825.9 L714.8,827.3 L699.2,828.7 L683.5,830.1 L667.9,831.5 L652.2,832.9 L636.5,834.4 L631,845.9 L653.1,843.3 L668.7,841.2 L684.3,839.2 L699.9,837.2 L715.5,835.1 L729.1,833.2Z" fill="#857e6e"/><path d="M726.9,807.3 L713.2,808.1 L697.5,809 L681.8,809.9 L666.1,810.8 L650.4,811.8 L631.2,813 L635.5,821.6 L651.1,820.4 L666.8,819.1 L682.5,817.9 L698.2,816.6 L713.8,815.4 L729.5,814.1Z" fill="#7c7464"/><path d="M729.5,814.1 L713.8,815.4 L698.2,816.6 L682.5,817.9 L666.8,819.1 L651.1,820.4 L635.5,821.6 L636.5,834.4 L652.2,832.9 L667.9,831.5 L683.5,830.1 L699.2,828.7 L714.8,827.3 L730.5,825.9Z" fill="#a7a799"/>
<path d="M759.6,869.1 L747.5,874.3 L732.5,880.3 L717.5,886 L702.3,891.5 L687.2,896.8 L666.2,903.7 L677,918.1 L692.1,912.4 L707.1,906.5 L722,900.3 L736.8,893.9 L751.6,887.4 L762.5,881.8Z" fill="#5f5545"/><path d="M758.7,863 L745.6,868.3 L730.5,873.9 L715.4,879.3 L700.1,884.5 L684.9,889.5 L663.8,896.1 L666.2,903.7 L687.2,896.8 L702.3,891.5 L717.5,886 L732.5,880.3 L747.5,874.3 L759.6,869.1Z" fill="#6b6252"/><path d="M758.7,856.2 L743.5,861.7 L728.3,866.9 L713,871.9 L697.7,876.7 L682.3,881.3 L666.8,885.7 L663.8,896.1 L684.9,889.5 L700.1,884.5 L715.4,879.3 L730.5,873.9 L745.6,868.3 L758.7,863Z" fill="#857e6e"/><path d="M750.7,837.8 L737.3,842 L721.9,846.6 L706.4,851 L690.9,855.1 L675.3,859.1 L654.8,864.3 L663.2,874.3 L678.7,870.1 L694.2,865.6 L709.6,861 L724.9,856.1 L740.2,851 L755.3,845.8Z" fill="#7c7464"/><path d="M755.3,845.8 L740.2,851 L724.9,856.1 L709.6,861 L694.2,865.6 L678.7,870.1 L663.2,874.3 L666.8,885.7 L682.3,881.3 L697.7,876.7 L713,871.9 L728.3,866.9 L743.5,861.7 L758.7,856.2Z" fill="#a7a799"/>
<path d="M791.9,897.4 L781,905.1 L767.1,913.7 L753,921.9 L738.8,929.7 L724.3,937.1 L704.7,946.6 L716.9,958.9 L731.5,951.2 L745.6,943.2 L759.6,934.8 L773.3,926 L786.9,916.8 L796.7,909Z" fill="#5f5545"/><path d="M790.2,891.8 L778.2,899.6 L764.2,907.9 L750,915.8 L735.6,923.3 L721,930.4 L701,939.8 L704.7,946.6 L724.3,937.1 L738.8,929.7 L753,921.9 L767.1,913.7 L781,905.1 L791.9,897.4Z" fill="#6b6252"/><path d="M789.3,885.6 L775.4,894 L761.2,902 L746.8,909.6 L732.3,916.8 L717.5,923.6 L702.5,930 L701,939.8 L721,930.4 L735.6,923.3 L750,915.8 L764.2,907.9 L778.2,899.6 L790.2,891.8Z" fill="#857e6e"/><path d="M777.7,867.1 L765.2,873.9 L750.7,881.2 L736,888.2 L721.1,894.7 L706,900.8 L684.4,909.8 L697.5,920 L712.5,913.7 L727.3,907 L742,900 L756.4,892.5 L770.7,884.7 L784.7,876.4Z" fill="#7c7464"/><path d="M784.7,876.4 L770.7,884.7 L756.4,892.5 L742,900 L727.3,907 L712.5,913.7 L697.5,920 L702.5,930 L717.5,923.6 L732.3,916.8 L746.8,909.6 L761.2,902 L775.4,894 L789.3,885.6Z" fill="#a7a799"/>
<path d="M828,920.4 L818.8,930.2 L806.8,941.2 L794.4,951.7 L781.6,961.6 L768.4,971 L750.8,982.8 L763.9,993 L777.5,983.3 L790.3,973.4 L802.7,962.9 L814.7,951.9 L826.3,940.3 L834.3,930.7Z" fill="#5f5545"/><path d="M825.5,915.4 L815.3,925.5 L803.1,936.2 L790.5,946.4 L777.5,956.1 L764.1,965.2 L745.9,977.1 L750.8,982.8 L768.4,971 L781.6,961.6 L794.4,951.7 L806.8,941.2 L818.8,930.2 L828,920.4Z" fill="#6b6252"/><path d="M823.8,909.8 L811.9,920.9 L799.5,931.4 L786.8,941.4 L773.6,950.9 L760.1,959.8 L746.1,968.2 L745.9,977.1 L764.1,965.2 L777.5,956.1 L790.5,946.4 L803.1,936.2 L815.3,925.5 L825.5,915.4Z" fill="#857e6e"/><path d="M808.2,892.1 L797.4,901.4 L784.5,911.2 L771.3,920.6 L757.6,929.4 L743.6,937.6 L721.9,950.7 L739.9,959.8 L753.9,951.5 L767.6,942.7 L780.8,933.4 L793.7,923.5 L806.1,913.1 L818.2,902.2Z" fill="#7c7464"/><path d="M818.2,902.2 L806.1,913.1 L793.7,923.5 L780.8,933.4 L767.6,942.7 L753.9,951.5 L739.9,959.8 L746.1,968.2 L760.1,959.8 L773.6,950.9 L786.8,941.4 L799.5,931.4 L811.9,920.9 L823.8,909.8Z" fill="#a7a799"/>
<path d="M867.4,939.8 L859.4,951.1 L848.8,964 L837.7,976.4 L826,988.2 L813.9,999.6 L798,1013.6 L811.7,1021.9 L824.3,1010.2 L836,998.3 L847.2,986 L857.8,973.1 L868,959.8 L874.8,948.7Z" fill="#5f5545"/><path d="M864.4,935.3 L855.5,947.1 L844.6,959.8 L833.3,971.9 L821.4,983.6 L809,994.7 L792.3,1009.1 L798,1013.6 L813.9,999.6 L826,988.2 L837.7,976.4 L848.8,964 L859.4,951.1 L867.4,939.8Z" fill="#6b6252"/><path d="M862.2,930.2 L851.7,943.2 L840.7,955.7 L829.2,967.7 L817.1,979.2 L804.6,990.2 L791.6,1000.6 L792.3,1009.1 L809,994.7 L821.4,983.6 L833.3,971.9 L844.6,959.8 L855.5,947.1 L864.4,935.3Z" fill="#857e6e"/><path d="M843.5,914.2 L833.9,925.2 L822.2,937.1 L810.1,948.4 L797.5,959.3 L784.4,969.6 L763.2,986.8 L784.4,993.4 L797.6,983 L810.2,972.2 L822.4,960.9 L834.1,949 L845.2,936.7 L855.8,923.8Z" fill="#7c7464"/><path d="M855.8,923.8 L845.2,936.7 L834.1,949 L822.4,960.9 L810.2,972.2 L797.6,983 L784.4,993.4 L791.6,1000.6 L804.6,990.2 L817.1,979.2 L829.2,967.7 L840.7,955.7 L851.7,943.2 L862.2,930.2Z" fill="#a7a799"/>
<path d="M907.5,947.7 L902.3,961 L894.8,976.4 L886.7,991.4 L877.9,1006 L868.4,1020.2 L856.2,1037.4 L870.7,1042.4 L880.6,1027.8 L889.5,1013.2 L897.7,998.3 L905.3,982.9 L912.2,967.1 L916.3,954.3Z" fill="#5f5545"/><path d="M903.8,944.2 L897.8,958.1 L890,973.4 L881.6,988.2 L872.5,1002.7 L862.7,1016.7 L849.5,1034.8 L856.2,1037.4 L868.4,1020.2 L877.9,1006 L886.7,991.4 L894.8,976.4 L902.3,961 L907.5,947.7Z" fill="#6b6252"/><path d="M900.6,939.8 L893.4,955.4 L885.5,970.6 L876.9,985.3 L867.7,999.7 L857.8,1013.6 L847.2,1027.1 L849.5,1034.8 L862.7,1016.7 L872.5,1002.7 L881.6,988.2 L890,973.4 L897.8,958.1 L903.8,944.2Z" fill="#857e6e"/><path d="M877.9,928.1 L870.9,941.5 L862.2,956.2 L852.9,970.4 L842.9,984.3 L832.2,997.7 L814.6,1021 L838.8,1021.9 L849.5,1008.5 L859.6,994.7 L869,980.5 L877.8,965.8 L885.9,950.8 L893.4,935.4Z" fill="#7c7464"/><path d="M893.4,935.4 L885.9,950.8 L877.8,965.8 L869,980.5 L859.6,994.7 L849.5,1008.5 L838.8,1021.9 L847.2,1027.1 L857.8,1013.6 L867.7,999.7 L876.9,985.3 L885.5,970.6 L893.4,955.4 L900.6,939.8Z" fill="#a7a799"/>
<path d="M950.4,953.4 L947.1,968 L941.8,985.1 L935.8,1001.8 L929,1018.2 L921.4,1034.3 L911.5,1053.8 L926.6,1056.6 L934.6,1040 L941.5,1023.6 L947.7,1007 L953.1,989.9 L957.8,972.6 L960.1,958.6Z" fill="#5f5545"/><path d="M946.2,950.5 L942.2,965.9 L936.6,982.9 L930.3,999.5 L923.1,1015.7 L915.3,1031.7 L904.5,1052.2 L911.5,1053.8 L921.4,1034.3 L929,1018.2 L935.8,1001.8 L941.8,985.1 L947.1,968 L950.4,953.4Z" fill="#6b6252"/><path d="M942.4,946.7 L937.4,963.9 L931.7,980.8 L925.2,997.3 L917.9,1013.5 L909.9,1029.4 L901.1,1045 L904.5,1052.2 L915.3,1031.7 L923.1,1015.7 L930.3,999.5 L936.6,982.9 L942.2,965.9 L946.2,950.5Z" fill="#857e6e"/><path d="M918.2,938.5 L913.2,953.5 L906.6,970 L899.2,986.2 L891.1,1002 L882.2,1017.6 L867.9,1043.8 L891.9,1041 L900.9,1025.6 L909.2,1009.8 L916.7,993.7 L923.4,977.2 L929.4,960.4 L934.6,943.3Z" fill="#7c7464"/><path d="M934.6,943.3 L929.4,960.4 L923.4,977.2 L916.7,993.7 L909.2,1009.8 L900.9,1025.6 L891.9,1041 L901.1,1045 L909.9,1029.4 L917.9,1013.5 L925.2,997.3 L931.7,980.8 L937.4,963.9 L942.4,946.7Z" fill="#a7a799"/>
<path d="M994,952.5 L993,967.8 L990.3,985.8 L986.7,1003.6 L982.3,1021.1 L977,1038.5 L969.9,1059.4 L985.3,1059.9 L990.9,1042.1 L995.5,1024.6 L999.3,1006.9 L1002.2,989 L1004.2,970.8 L1004.4,956.3Z" fill="#5f5545"/><path d="M989.4,950.3 L987.8,966.5 L984.8,984.4 L980.9,1002.1 L976.2,1019.5 L970.6,1036.8 L962.8,1058.9 L969.9,1059.4 L977,1038.5 L982.3,1021.1 L986.7,1003.6 L990.3,985.8 L993,967.8 L994,952.5Z" fill="#6b6252"/><path d="M985.1,947.1 L982.8,965.2 L979.6,983 L975.6,1000.7 L970.7,1018.1 L964.9,1035.3 L958.3,1052.3 L962.8,1058.9 L970.6,1036.8 L976.2,1019.5 L980.9,1002.1 L984.8,984.4 L987.8,966.5 L989.4,950.3Z" fill="#857e6e"/><path d="M959.9,942.6 L957.2,958.5 L953.2,976.1 L948.3,993.5 L942.5,1010.7 L935.8,1027.7 L925.3,1056 L948.7,1049.7 L955.5,1032.8 L961.5,1015.7 L966.6,998.3 L970.9,980.8 L974.3,963 L976.9,944.9Z" fill="#7c7464"/><path d="M976.9,944.9 L974.3,963 L970.9,980.8 L966.6,998.3 L961.5,1015.7 L955.5,1032.8 L948.7,1049.7 L958.3,1052.3 L964.9,1035.3 L970.7,1018.1 L975.6,1000.7 L979.6,983 L982.8,965.2 L985.1,947.1Z" fill="#a7a799"/>
<path d="M1037.8,948.7 L1038.8,964 L1038.6,982.3 L1037.5,1000.4 L1035.5,1018.4 L1032.6,1036.3 L1028.4,1058.1 L1043.7,1056.5 L1046.9,1038.1 L1049.1,1020.1 L1050.4,1002 L1050.8,983.8 L1050.4,965.4 L1048.6,951Z" fill="#5f5545"/><path d="M1032.9,947.1 L1033.5,963.4 L1033,981.6 L1031.5,999.7 L1029.2,1017.7 L1026,1035.5 L1021.3,1058.6 L1028.4,1058.1 L1032.6,1036.3 L1035.5,1018.4 L1037.5,1000.4 L1038.6,982.3 L1038.8,964 L1037.8,948.7Z" fill="#6b6252"/><path d="M1028.2,944.5 L1028.4,962.8 L1027.7,981 L1026.1,999 L1023.6,1017 L1020.2,1034.8 L1016,1052.6 L1021.3,1058.6 L1026,1035.5 L1029.2,1017.7 L1031.5,999.7 L1033,981.6 L1033.5,963.4 L1032.9,947.1Z" fill="#857e6e"/><path d="M1002.7,943.4 L1002.2,959.6 L1000.5,977.7 L998,995.7 L994.6,1013.5 L990.3,1031.3 L983.8,1060.8 L1006,1051.4 L1010.5,1033.7 L1014.1,1015.9 L1016.9,997.9 L1018.7,979.9 L1019.7,961.7 L1019.8,943.5Z" fill="#7c7464"/><path d="M1019.8,943.5 L1019.7,961.7 L1018.7,979.9 L1016.9,997.9 L1014.1,1015.9 L1010.5,1033.7 L1006,1051.4 L1016,1052.6 L1020.2,1034.8 L1023.6,1017 L1026.1,999 L1027.7,981 L1028.4,962.8 L1028.2,944.5Z" fill="#a7a799"/></g>
<path d="M816.2,847 L811.3,842.1 L806.6,837.1 L801.9,831.9 L797.5,826.5 L793.1,821.1 L788.9,815.5 L784.9,809.8 L781,804 L777.2,798.1 L773.6,792 L770.2,785.9 L766.9,779.7 L763.8,773.3 L760.9,766.9 L758.1,760.4 L755.5,753.8 L753,747.2 L750.8,740.4 L748.7,733.7 L746.7,726.8 L745,719.9 L743.4,712.9 L742.1,706 L740.9,698.9 L739.8,691.9 L739,684.8 L738.3,677.6 L737.9,670.5 L737.6,663.4 L737.5,656.2 L737.6,649.1 L737.9,641.9 L738.3,634.8 L739,627.7 L739.8,620.6 L740.8,613.5 L742,606.5 L743.3,599.5 L744.9,592.5 L746.6,585.6 L748.5,578.8 L750.6,572 L752.9,565.3 L755.3,558.6 L757.9,552 L760.7,545.5 L763.6,539.1 L766.7,532.7 L770,526.5 L773.4,520.3 L777,514.3 L780.7,508.4 L784.6,502.5 L788.7,496.8 L792.9,491.3 L797.2,485.8 L801.7,480.5 L806.3,475.3 L811,470.2 L815.9,465.3 L788,464.5 L763.5,465.5 L780,459 L800,452.5 L815,450.5 L830,450 L835.5,451.5 L836.7,456 L838,475 L840,495 L843,516 L835,502 L830,487 L826.5,473 L806.4,495.9 L802.3,501.2 L798.3,506.6 L794.5,512.1 L790.8,517.7 L787.2,523.5 L783.9,529.3 L780.6,535.2 L777.5,541.3 L774.6,547.4 L771.9,553.6 L769.3,559.9 L766.8,566.3 L764.6,572.7 L762.5,579.2 L760.6,585.8 L758.8,592.4 L757.2,599.1 L755.8,605.8 L754.6,612.6 L753.6,619.4 L752.7,626.2 L752,633 L751.5,639.9 L751,646.8 L750.6,653.6 L750.5,660.5 L750.5,667.4 L750.7,674.4 L751.1,681.3 L751.5,688.2 L752.2,695.1 L753,701.9 L754,708.8 L755.2,715.6 L756.5,722.4 L758.1,729.2 L759.9,735.9 L761.8,742.5 L763.9,749.1 L766.2,755.7 L768.6,762.2 L771.1,768.7 L773.7,775.1 L776.5,781.4 L779.5,787.7 L782.6,793.9 L785.8,800 L789.1,806.2 L792.5,812.2 L796.1,818.2 L799.9,824.1 L803.8,829.9 L807.8,835.7 L812,841.3 L816.3,846.9Z" fill="#a44f08" stroke="#f6dcbc" stroke-width="1" stroke-linejoin="round"/>
<path d="M766.1,644 L766.2,643.5 L766.3,642.6 L766.4,641.2 L766.6,639.3 L766.8,637 L767,634.2 L767.3,630.9 L767.6,627.2 L768,623.4 L768.4,619.5 L768.9,615.6 L769.4,611.6 L769.9,607.6 L770.5,603.5 L771.2,599.4 L771.8,595.2 L772.6,591.1 L773.4,587.1 L774.3,583.3 L775.2,579.5 L776.2,575.9 L777.3,572.3 L778.4,568.9 L779.6,565.6 L780.9,562.2 L782.3,558.9 L783.8,555.6 L785.3,552.2 L786.9,548.8 L788.6,545.5 L790.4,542.1 L792.2,538.7 L794.2,535.4 L796.2,532.2 L798.3,529.1 L800.5,526 L802.7,523 L805.1,520.1 L807.6,517.2 L810.1,514.4 L812.4,512 L814.3,509.9 L815.9,508.1 L817.2,506.7 L818.1,505.7 L818.8,505 L819.1,504.6 L818.9,504.4 L818.5,504.7 L817.8,505.4 L816.8,506.3 L815.4,507.6 L813.6,509.2 L811.5,511.1 L809.1,513.4 L806.3,516 L803.5,518.7 L800.9,521.4 L798.4,524.3 L795.9,527.3 L793.6,530.4 L791.3,533.6 L789.2,536.9 L787.2,540.3 L785.3,543.7 L783.4,547 L781.7,550.4 L780,553.8 L778.4,557.2 L777,560.6 L775.6,564 L774.3,567.5 L773.1,571 L772,574.7 L771,578.4 L770.1,582.3 L769.3,586.3 L768.6,590.4 L768,594.6 L767.5,598.9 L767.1,603.1 L766.7,607.3 L766.4,611.4 L766.2,615.4 L766,619.3 L765.9,623.2 L765.8,627.1 L765.8,630.8 L765.8,634.1 L765.8,636.9 L765.8,639.3 L765.8,641.2 L765.8,642.6 L765.8,643.5 L765.9,644Z" fill="#a44f08" stroke="#fff" stroke-width="0.8"/>
<path d="M551.5,662 L551.5,661.5 L551.4,660.6 L551.4,659.3 L551.3,657.5 L551.1,655.2 L551,652.5 L550.8,649.3 L550.7,645.6 L550.5,641.7 L550.5,637.3 L550.5,632.7 L550.6,627.7 L550.8,622.4 L551,616.8 L551.3,610.9 L551.7,604.6 L552.1,598.5 L552.6,592.6 L553.1,587 L553.7,581.5 L554.3,576.3 L555,571.2 L555.8,566.4 L556.6,561.8 L557.5,557.1 L558.6,552.2 L559.7,547.3 L561,542.2 L562.3,537 L563.8,531.8 L565.4,526.4 L567.1,520.9 L568.9,515.5 L570.8,510.2 L572.8,505.1 L574.8,500.1 L576.9,495.2 L579.1,490.5 L581.3,485.9 L583.6,481.5 L585.6,477.7 L587.3,474.4 L588.8,471.7 L589.9,469.5 L590.8,467.9 L591.3,466.8 L592,461 L569.8,463.2 L600.7,454 L607.7,485.4 L598.3,465.5 L598.1,470.3 L597.5,471.4 L596.7,473 L595.6,475.2 L594.2,478 L592.6,481.3 L590.6,485.1 L588.4,489.5 L586.3,493.9 L584.3,498.5 L582.3,503.2 L580.4,508 L578.6,513 L576.8,518.1 L575.1,523.4 L573.5,528.8 L571.9,534.1 L570.5,539.3 L569.1,544.3 L567.9,549.3 L566.7,554.1 L565.6,558.8 L564.6,563.4 L563.6,567.8 L562.8,572.5 L561.9,577.4 L561.1,582.5 L560.3,587.8 L559.5,593.4 L558.8,599.2 L558.1,605.2 L557.4,611.4 L556.7,617.3 L556.1,622.8 L555.6,628.1 L555,633 L554.5,637.6 L554.1,641.8 L553.6,645.7 L553.3,649.3 L552.9,652.5 L552.6,655.2 L552.4,657.5 L552.2,659.3 L552,660.6 L551.9,661.6 L551.9,662Z" fill="#a44f08" stroke="#f6dcbc" stroke-width="0.9" stroke-linejoin="round"/>
<path d="M572.3,607 L572.4,606 L572.6,604.1 L572.9,601.3 L573.4,597.5 L573.9,592.7 L574.5,587 L575.2,580.4 L576.1,572.8 L577.1,565.4 L578.2,558.1 L579.5,551.1 L581,544.3 L582.5,537.7 L584.3,531.3 L586.1,525.1 L588.2,519.2 L590.1,513.5 L592,508.1 L593.8,502.8 L595.6,497.8 L597.3,493 L599,488.4 L600.6,484 L602.2,479.9 L603.7,475.8 L605.3,471.9 L606.9,468.1 L608.4,464.4 L610,460.8 L611.5,457.4 L613.1,454 L614.7,450.8 L616.3,447.6 L618,444.3 L619.8,441 L621.7,437.7 L623.6,434.4 L625.7,431.1 L627.7,427.7 L629.9,424.3 L632.2,420.9 L634.7,417.5 L637.2,414.2 L639.8,410.8 L642.6,407.5 L645.5,404.3 L648.4,401 L651.5,397.8 L654.6,394.6 L657.9,391.2 L661.2,387.8 L664.6,384.4 L668.1,380.8 L671.7,377.2 L675.4,373.5 L679.2,369.7 L683.1,365.9 L687.1,362.2 L691.2,358.6 L695.3,355.1 L699.6,351.6 L703.9,348.2 L708.3,344.9 L712.7,341.7 L717.3,338.4 L722.1,335 L727,331.5 L732.1,327.9 L737.4,324.2 L742.8,320.4 L748.4,316.6 L754.2,312.6 L759.3,309.1 L763.6,306.1 L767.2,303.7 L770.1,301.7 L772.2,300.2 L773.7,299.2 L779.5,296.5 L776,291.3 L788,292.5 L786.7,310.7 L782.5,302 L776.9,303.8 L775.5,304.8 L773.3,306.3 L770.4,308.3 L766.9,310.9 L762.6,313.9 L757.5,317.4 L751.8,321.4 L746.3,325.4 L740.9,329.2 L735.7,333 L730.7,336.6 L725.8,340.2 L721.2,343.7 L716.7,347 L712.4,350.3 L708.1,353.6 L704,357 L700,360.5 L696,364 L692.1,367.6 L688.3,371.3 L684.5,375 L680.9,378.8 L677.2,382.6 L673.7,386.3 L670.3,389.9 L667,393.4 L663.7,396.8 L660.6,400.2 L657.5,403.5 L654.6,406.7 L651.8,409.8 L649.1,413 L646.5,416.2 L644,419.4 L641.6,422.6 L639.4,425.8 L637.2,429.1 L635.1,432.3 L633.1,435.6 L631.2,438.9 L629.3,442.1 L627.5,445.3 L625.8,448.5 L624.1,451.6 L622.6,454.7 L621.1,457.8 L619.5,461.1 L618,464.4 L616.4,467.9 L614.9,471.5 L613.3,475.2 L611.7,479 L610.1,483 L608.5,487.1 L606.8,491.4 L605,495.9 L603.2,500.6 L601.2,505.6 L599.2,510.7 L597.1,516.1 L595,521.7 L592.7,527.4 L590.6,533.3 L588.5,539.4 L586.6,545.8 L584.7,552.4 L582.9,559.1 L581.2,566.1 L579.6,573.4 L578.1,580.8 L576.7,587.4 L575.6,593 L574.6,597.7 L573.8,601.4 L573.3,604.2 L572.9,606.1 L572.7,607Z" fill="#a44f08" stroke="#f6dcbc" stroke-width="0.9" stroke-linejoin="round"/>
<path d="M634.3,414.8 L643.3,406.8 L644.8,434.8 L639.8,418.8Z" fill="#a44f08" stroke="#f6dcbc" stroke-width="0.7" stroke-linejoin="round"/>
<path d="M685.7,365 L694.7,357 L696.2,387 L691.2,369Z" fill="#a44f08" stroke="#f6dcbc" stroke-width="0.7" stroke-linejoin="round"/>
<path d="M733,332.5 L742,324.5 L743.5,344.5 L738.5,336.5Z" fill="#a44f08" stroke="#f6dcbc" stroke-width="0.7" stroke-linejoin="round"/>
<path d="M598.4,541.1 L598.6,540.7 L598.9,540.1 L599.3,539.1 L599.8,537.8 L600.5,536.2 L601.4,534.3 L602.4,532.1 L603.5,529.5 L604.6,527 L605.8,524.4 L607,521.9 L608.3,519.5 L609.5,517 L610.8,514.5 L612.2,512.1 L613.5,509.6 L614.9,506.8 L616.3,503.9 L617.7,500.8 L619.1,497.5 L620.4,493.9 L621.7,490.2 L623,486.3 L624.3,482.2 L625.7,478.2 L627,474.4 L628.4,470.7 L629.8,467.1 L631.2,463.7 L632.7,460.3 L634.2,457.1 L635.7,454 L637.3,450.9 L639,447.8 L640.7,444.7 L642.4,441.6 L644.2,438.5 L646.1,435.4 L648,432.3 L650,429.2 L651.9,426.2 L653.8,423.4 L655.6,420.6 L657.5,417.9 L659.2,415.4 L661,412.9 L662.7,410.6 L664.4,408.3 L665.9,406.3 L667.2,404.6 L668.2,403.2 L669.1,402 L669.7,401.2 L670.2,400.6 L670.4,400.3 L669.6,399.7 L669.4,399.9 L668.9,400.4 L668.1,401.2 L667.1,402.1 L665.8,403.4 L664.3,404.9 L662.5,406.6 L660.4,408.6 L658.3,410.7 L656.3,413 L654.2,415.4 L652.1,417.9 L649.9,420.6 L647.8,423.4 L645.7,426.4 L643.6,429.5 L641.5,432.6 L639.5,435.7 L637.6,438.8 L635.8,442 L634,445.1 L632.3,448.3 L630.7,451.5 L629.2,454.7 L627.7,458.1 L626.2,461.6 L624.8,465.2 L623.5,468.9 L622.2,472.7 L620.9,476.7 L619.7,480.7 L618.5,484.9 L617.4,488.8 L616.2,492.5 L615,496 L613.9,499.3 L612.7,502.4 L611.5,505.2 L610.3,507.9 L609,510.4 L607.8,513 L606.7,515.6 L605.6,518.2 L604.5,520.9 L603.6,523.5 L602.6,526.2 L601.8,528.9 L601,531.6 L600.3,533.9 L599.7,535.9 L599.2,537.6 L598.8,538.9 L598.5,539.9 L598.3,540.6 L598.2,540.9Z" fill="#a44f08" stroke="#f6dcbc" stroke-width="0.8"/>
<path d="M714.2,1021 L714.1,1020.5 L714,1019.5 L713.8,1018 L713.5,1016.1 L713.1,1013.6 L712.6,1010.7 L712.1,1007.3 L711.5,1003.4 L710.9,999.5 L710.2,995.7 L709.4,991.9 L708.5,988.1 L707.6,984.4 L706.6,980.7 L705.6,977.1 L704.4,973.5 L703.3,970 L702.1,966.5 L700.8,963.1 L699.6,959.8 L698.2,956.5 L696.8,953.3 L695.4,950.2 L694,947.1 L692.5,944.2 L691.1,941.5 L689.8,939 L688.5,936.6 L687.2,934.4 L685.9,932.4 L684.7,930.6 L683.5,928.9 L682.5,927.5 L681.6,926.3 L680.9,925.3 L680.3,924.5 L679.9,923.9 L679.6,923.5 L681,926 L692,921 L670,917 L668,948 L673.5,931 L674.7,926.9 L674.9,927.3 L675.4,927.9 L675.9,928.8 L676.6,929.8 L677.4,931 L678.4,932.5 L679.5,934.1 L680.6,935.8 L681.7,937.7 L683,939.8 L684.3,942.1 L685.6,944.5 L687.1,947.1 L688.5,949.9 L690.1,952.8 L691.6,955.8 L693.1,958.8 L694.6,962 L696,965.1 L697.5,968.4 L698.9,971.6 L700.3,975 L701.7,978.4 L703,981.9 L704.3,985.4 L705.5,989 L706.6,992.6 L707.7,996.2 L708.7,1000 L709.7,1003.7 L710.6,1007.6 L711.4,1010.9 L712.1,1013.8 L712.7,1016.2 L713.1,1018.2 L713.5,1019.6 L713.7,1020.6 L713.8,1021Z" fill="#a44f08" stroke="#f6dcbc" stroke-width="0.9" stroke-linejoin="round"/>
<g fill="#a44f08" stroke="#f6dcbc" stroke-width="0.8" stroke-linejoin="round"><path d="M595.7,695.9 L595.6,695.9 L595.2,696 L594.7,696 L594,696.1 L593.2,696.2 L592.1,696.3 L590.9,696.5 L589.5,696.6 L588.1,696.8 L586.6,697 L585,697.2 L583.4,697.5 L581.7,697.8 L580,698.1 L578.2,698.4 L576.4,698.8 L574.6,699.1 L572.8,699.5 L571.1,700 L569.5,700.4 L567.9,700.9 L566.3,701.4 L564.8,701.9 L563.4,702.5 L562.2,702.9 L561.2,703.3 L560.3,703.6 L559.6,703.9 L559.1,704.1 L558.7,704.2 L558.6,704.3 L555.5,693.7 L552.3,710.7 L571.3,713.6 L560.8,709.7 L561,709.6 L561.3,709.5 L561.9,709.2 L562.5,708.9 L563.4,708.5 L564.4,708.1 L565.5,707.5 L566.8,706.9 L568.2,706.3 L569.6,705.8 L571,705.3 L572.5,704.8 L574.1,704.3 L575.7,703.8 L577.4,703.4 L579.2,703 L580.9,702.6 L582.6,702.3 L584.2,702 L585.7,701.7 L587.2,701.4 L588.7,701.2 L590.1,701 L591.5,700.8 L592.7,700.6 L593.7,700.5 L594.6,700.3 L595.2,700.2 L595.8,700.2 L596.1,700.1 L596.3,700.1Z"/><path d="M552.2,716.6 L552.4,716.8 L552.7,717 L553.1,717.3 L553.7,717.7 L554.5,718.3 L555.4,719 L556.5,719.7 L557.8,720.6 L559,721.4 L560.3,722.2 L561.7,723 L563,723.7 L564.4,724.3 L565.9,724.9 L567.3,725.4 L568.8,725.9 L570.3,726.4 L571.7,726.8 L573.2,727.2 L574.7,727.6 L576.1,727.9 L577.6,728.2 L579.1,728.5 L580.6,728.8 L582,729 L583.5,729.1 L585,729.2 L586.5,729.2 L588,729.2 L589.4,729.2 L590.9,729.1 L592.3,728.9 L593.5,728.7 L594.6,728.6 L595.5,728.5 L596.2,728.4 L596.7,728.4 L597.1,728.3 L597.2,728.3 L596.8,724.7 L596.6,724.7 L596.2,724.7 L595.7,724.8 L595,724.9 L594.2,725 L593.1,725.2 L591.9,725.3 L590.5,725.5 L589.2,725.7 L587.8,725.8 L586.4,725.8 L585.1,725.9 L583.7,725.9 L582.3,725.8 L580.9,725.7 L579.5,725.6 L578,725.4 L576.6,725.3 L575.2,725 L573.7,724.8 L572.3,724.5 L570.8,724.2 L569.4,723.9 L567.9,723.5 L566.5,723.1 L565.1,722.7 L563.7,722.2 L562.3,721.6 L561,721 L559.6,720.4 L558.3,719.7 L557,719 L555.9,718.3 L554.9,717.8 L554,717.3 L553.4,716.9 L552.9,716.6 L552.6,716.4 L552.4,716.4Z"/><path d="M603.2,710.7 L603.1,710.7 L602.9,710.6 L602.6,710.6 L602.3,710.6 L601.8,710.6 L601.2,710.5 L600.6,710.5 L599.8,710.4 L599.1,710.4 L598.4,710.3 L597.8,710.3 L597.1,710.2 L596.5,710.1 L595.9,710.1 L595.4,710 L594.8,709.9 L594.3,709.9 L593.9,709.8 L593.5,709.7 L593.3,709.7 L593,709.7 L592.9,709.7 L592.8,709.7 L596.3,706 L586.1,712.1 L594,722.3 L592.2,715.7 L592.2,715.8 L592.4,715.8 L592.6,715.8 L592.9,715.8 L593.2,715.8 L593.6,715.9 L594.1,715.9 L594.7,716 L595.3,716 L595.9,716.1 L596.6,716.1 L597.3,716.2 L598,716.2 L598.7,716.3 L599.4,716.3 L600.2,716.4 L600.8,716.4 L601.4,716.4 L601.9,716.5 L602.2,716.5 L602.5,716.5 L602.7,716.5 L602.8,716.5Z"/><path d="M612.2,767 L612,767 L611.7,766.8 L611.3,766.6 L610.7,766.3 L609.9,765.9 L609,765.4 L607.9,764.9 L606.6,764.2 L605.2,763.7 L603.7,763.2 L602,762.8 L600.2,762.5 L598.4,762.3 L596.4,762.2 L594.4,762.1 L592.2,762.2 L590.1,762.3 L588.1,762.4 L586.1,762.6 L584.2,762.8 L582.3,763 L580.4,763.3 L578.6,763.7 L576.9,764 L575.2,764.4 L573.6,764.8 L572,765.3 L570.4,765.7 L568.9,766.2 L567.4,766.7 L565.9,767.2 L564.5,767.7 L563.3,768.1 L562.2,768.5 L561.4,768.8 L560.7,769.1 L560.1,769.3 L559.8,769.4 L559.6,769.5 L556.7,759.7 L554,775.7 L573.3,778 L561.8,774.9 L561.9,774.9 L562.3,774.7 L562.8,774.5 L563.5,774.2 L564.3,773.9 L565.3,773.4 L566.5,772.9 L567.9,772.4 L569.2,771.8 L570.6,771.3 L572,770.8 L573.5,770.3 L575,769.9 L576.5,769.4 L578.1,769 L579.7,768.5 L581.4,768.2 L583.1,767.8 L584.8,767.5 L586.6,767.3 L588.5,767.1 L590.4,767 L592.4,766.9 L594.4,766.8 L596.3,766.8 L598.2,766.8 L599.9,766.9 L601.5,766.9 L603,767 L604.4,767.1 L605.8,767.3 L607.1,767.5 L608.3,767.6 L609.3,767.8 L610.1,767.9 L610.8,768 L611.3,768.1 L611.7,768.1 L611.8,768.2Z"/><path d="M553.9,782.1 L554.1,782.3 L554.4,782.5 L554.9,782.9 L555.6,783.3 L556.4,783.9 L557.4,784.6 L558.6,785.5 L559.9,786.4 L561.3,787.3 L562.7,788.2 L564.2,788.9 L565.7,789.7 L567.3,790.3 L568.9,790.9 L570.5,791.5 L572.2,791.9 L573.9,792.4 L575.6,792.8 L577.3,793.1 L578.9,793.5 L580.6,793.8 L582.3,794 L584,794.2 L585.7,794.4 L587.5,794.5 L589.2,794.6 L590.9,794.7 L592.7,794.7 L594.5,794.7 L596.3,794.6 L598.1,794.5 L599.9,794.4 L601.5,794.2 L602.8,794.1 L603.9,794 L604.8,793.9 L605.5,793.9 L605.9,793.9 L606.2,793.8 L605.8,790.2 L605.6,790.2 L605.2,790.2 L604.5,790.3 L603.6,790.4 L602.5,790.5 L601.1,790.6 L599.6,790.8 L597.8,791 L596.1,791.1 L594.4,791.2 L592.6,791.3 L590.9,791.3 L589.3,791.4 L587.6,791.4 L585.9,791.3 L584.3,791.2 L582.6,791.1 L581,791 L579.3,790.8 L577.7,790.6 L576,790.4 L574.4,790.1 L572.7,789.8 L571.1,789.4 L569.5,789 L567.9,788.6 L566.4,788.1 L564.9,787.5 L563.4,786.9 L561.9,786.2 L560.5,785.5 L559.1,784.7 L557.8,784 L556.8,783.4 L555.9,782.9 L555.2,782.5 L554.6,782.2 L554.3,782 L554.1,781.9Z"/><path d="M613.1,781.8 L613,781.7 L612.8,781.6 L612.5,781.4 L612,781.2 L611.5,780.9 L610.8,780.6 L610.1,780.2 L609.2,779.7 L608.3,779.3 L607.4,778.8 L606.5,778.4 L605.6,778.1 L604.7,777.7 L603.8,777.4 L602.9,777.1 L602.1,776.8 L601.3,776.6 L600.5,776.4 L599.7,776.2 L598.9,776 L598.2,775.9 L597.5,775.7 L596.8,775.6 L596.1,775.5 L595.6,775.5 L595.2,775.4 L594.8,775.4 L594.5,775.3 L594.3,775.3 L594.1,775.3 L594,775.2 L597.7,770.3 L588,776.7 L595,787.3 L593.4,780.8 L593.4,780.8 L593.6,780.8 L593.8,780.8 L594.1,780.8 L594.5,780.9 L594.9,780.9 L595.5,781 L596,781.1 L596.6,781.1 L597.2,781.2 L597.8,781.3 L598.5,781.5 L599.1,781.6 L599.9,781.8 L600.6,782 L601.4,782.2 L602.1,782.5 L602.9,782.7 L603.7,783 L604.5,783.3 L605.3,783.6 L606.1,784 L606.9,784.3 L607.8,784.8 L608.6,785.1 L609.2,785.4 L609.8,785.7 L610.2,785.9 L610.6,786.1 L610.8,786.2 L610.9,786.2Z"/><path d="M637.1,835.2 L637,835.1 L636.6,834.8 L636,834.4 L635.3,833.8 L634.4,833.1 L633.2,832.3 L631.9,831.3 L630.4,830.2 L628.9,829.1 L627.3,828.1 L625.6,827.1 L623.9,826.2 L622.2,825.4 L620.5,824.7 L618.7,824 L616.8,823.4 L615,822.8 L613.1,822.3 L611.3,821.9 L609.4,821.5 L607.5,821.2 L605.5,821 L603.6,820.8 L601.7,820.7 L599.7,820.6 L597.8,820.6 L595.8,820.6 L593.9,820.7 L591.9,820.8 L590,821 L588,821.2 L586.1,821.5 L584.2,821.8 L582.3,822.1 L580.5,822.5 L578.8,823 L577,823.4 L575.4,823.9 L573.7,824.5 L572.2,825.1 L570.7,825.6 L569.3,826.2 L567.9,826.8 L566.6,827.3 L565.4,827.9 L564.2,828.4 L563.1,829 L562.1,829.5 L561.2,829.9 L560.5,830.3 L559.9,830.6 L559.4,830.9 L559,831.1 L558.8,831.2 L558.7,831.2 L555,818.2 L552,838.7 L573.3,841.6 L561.7,837 L561.9,836.9 L562.1,836.8 L562.5,836.5 L562.9,836.3 L563.5,835.9 L564.3,835.5 L565.1,835.1 L566,834.5 L567,834 L568.1,833.5 L569.2,832.9 L570.4,832.4 L571.6,831.8 L573,831.3 L574.3,830.7 L575.8,830.1 L577.2,829.6 L578.7,829.1 L580.3,828.6 L581.9,828.2 L583.6,827.8 L585.3,827.4 L587,827.1 L588.8,826.8 L590.6,826.5 L592.4,826.3 L594.2,826.1 L596,826 L597.9,825.9 L599.7,825.9 L601.5,825.9 L603.3,826 L605.1,826.1 L606.8,826.2 L608.6,826.4 L610.4,826.7 L612.1,827 L613.9,827.4 L615.6,827.8 L617.3,828.3 L619,828.8 L620.7,829.3 L622.4,829.8 L624.1,830.4 L625.8,831.1 L627.5,831.7 L629.2,832.4 L630.9,833.1 L632.4,833.8 L633.6,834.4 L634.7,834.8 L635.6,835.2 L636.2,835.5 L636.6,835.7 L636.9,835.8Z"/><path d="M551.9,847.1 L552,847.3 L552.3,847.6 L552.7,848 L553.3,848.6 L554,849.3 L554.9,850.1 L555.8,851.1 L557,852.2 L558.3,853.4 L559.7,854.4 L561.2,855.5 L562.9,856.5 L564.6,857.4 L566.5,858.3 L568.5,859.1 L570.6,859.9 L572.7,860.6 L574.8,861.3 L576.9,861.8 L579,862.4 L581.2,862.8 L583.3,863.2 L585.4,863.5 L587.6,863.7 L589.7,863.9 L591.8,864 L593.8,864.1 L595.9,864.1 L597.9,864 L599.9,863.9 L601.9,863.7 L603.8,863.5 L605.7,863.1 L607.4,862.8 L609.1,862.3 L610.6,861.8 L612.1,861.2 L613.5,860.6 L614.7,859.8 L615.8,859 L616.8,858.2 L617.7,857.3 L618.5,856.4 L619.1,855.5 L619.7,854.4 L620.1,853.3 L620.3,852.2 L620.3,851.1 L620.2,850 L620,848.9 L619.6,847.9 L619.1,846.9 L618.6,845.9 L617.9,845 L617.1,844.1 L616.3,843.3 L615.4,842.4 L614.4,841.7 L613.4,841 L612.4,840.3 L611.3,839.8 L610.2,839.2 L609.1,838.8 L607.9,838.4 L606.9,838 L605.9,837.7 L605,837.5 L604.1,837.2 L603.3,837.1 L602.5,836.9 L601.8,836.8 L601.2,836.7 L600.7,836.7 L600.3,836.7 L599.9,836.6 L599.7,836.6 L599.5,836.6 L599.3,836.6 L599.3,836.6 L601.7,832.4 L590.4,840.3 L598.8,854 L598.7,842.4 L598.8,842.4 L598.9,842.5 L599.1,842.5 L599.4,842.5 L599.7,842.5 L600.1,842.6 L600.6,842.6 L601.1,842.7 L601.5,842.7 L602.1,842.8 L602.7,843 L603.4,843.2 L604.2,843.4 L605.1,843.7 L606,844 L607,844.3 L607.9,844.6 L608.7,845 L609.5,845.5 L610.2,845.9 L610.9,846.4 L611.6,846.9 L612.2,847.5 L612.8,848.1 L613.3,848.7 L613.7,849.2 L614,849.7 L614.3,850.2 L614.5,850.6 L614.6,851 L614.7,851.4 L614.7,851.7 L614.7,852 L614.6,852.4 L614.5,852.8 L614.2,853.3 L613.8,853.9 L613.3,854.5 L612.6,855.1 L611.9,855.7 L611,856.3 L610,856.9 L608.9,857.4 L607.6,858 L606.2,858.5 L604.7,858.9 L603.1,859.3 L601.3,859.7 L599.4,860 L597.6,860.3 L595.7,860.4 L593.8,860.5 L591.8,860.6 L589.8,860.6 L587.8,860.5 L585.8,860.3 L583.7,860.1 L581.7,859.8 L579.7,859.4 L577.6,859 L575.6,858.5 L573.5,858 L571.5,857.3 L569.4,856.7 L567.5,855.9 L565.6,855.2 L563.9,854.4 L562.3,853.6 L560.7,852.8 L559.3,852 L557.9,851.1 L556.6,850.2 L555.5,849.3 L554.5,848.6 L553.7,848 L553.1,847.6 L552.6,847.2 L552.3,847 L552.1,846.9Z"/><path d="M669.7,915.3 L669.5,915.1 L669.1,914.6 L668.4,913.9 L667.6,913 L666.5,911.9 L665.2,910.6 L663.7,909 L662,907.2 L660.2,905.4 L658.4,903.7 L656.5,902.1 L654.5,900.6 L652.4,899.1 L650.3,897.7 L648.2,896.4 L645.9,895.2 L643.7,894 L641.4,892.9 L639,891.9 L636.6,891 L634.2,890.2 L631.7,889.4 L629.2,888.8 L626.6,888.2 L624,887.7 L621.5,887.3 L618.9,887 L616.3,886.8 L613.7,886.7 L611.1,886.6 L608.5,886.7 L606,886.8 L603.5,887 L601,887.3 L598.6,887.6 L596.3,888 L594,888.4 L591.8,888.9 L589.7,889.4 L587.6,890 L585.7,890.6 L583.7,891.3 L581.8,891.9 L579.9,892.6 L578.1,893.4 L576.3,894.1 L574.6,894.9 L572.9,895.7 L571.5,896.4 L570.3,896.9 L569.3,897.4 L568.5,897.8 L567.9,898.1 L567.5,898.3 L567.3,898.4 L564.2,882.6 L560.8,907.7 L585.2,910 L570.7,905.2 L570.9,905.1 L571.3,904.9 L571.9,904.6 L572.7,904.2 L573.7,903.7 L574.9,903 L576.3,902.3 L577.8,901.5 L579.3,900.7 L580.9,900 L582.6,899.3 L584.3,898.6 L586,898 L587.8,897.3 L589.7,896.8 L591.6,896.2 L593.5,895.7 L595.5,895.2 L597.5,894.8 L599.6,894.5 L601.8,894.2 L604.1,893.9 L606.5,893.7 L608.8,893.6 L611.2,893.5 L613.6,893.5 L616,893.5 L618.4,893.6 L620.7,893.8 L623.1,894 L625.5,894.3 L627.9,894.7 L630.3,895.1 L632.6,895.7 L634.9,896.3 L637.2,897 L639.4,897.8 L641.6,898.6 L643.8,899.6 L645.9,900.6 L648,901.7 L650.1,902.8 L652.2,904 L654.3,905.2 L656.3,906.5 L658.3,907.8 L660.3,909.2 L662.3,910.6 L664.1,911.9 L665.6,913 L666.8,913.9 L667.8,914.6 L668.6,915.2 L669.1,915.5 L669.3,915.7Z"/><path d="M560.6,916.5 L560.8,916.7 L561.2,917 L561.9,917.5 L562.7,918.2 L563.7,919.1 L564.9,920.1 L566.3,921.2 L567.9,922.6 L569.6,923.9 L571.4,925.1 L573.2,926.2 L575.2,927.3 L577.2,928.4 L579.2,929.3 L581.4,930.2 L583.6,931 L585.8,931.7 L588.1,932.4 L590.4,933 L592.7,933.5 L595,934 L597.3,934.4 L599.7,934.7 L602,934.9 L604.3,935.1 L606.6,935.3 L608.9,935.4 L611.1,935.4 L613.3,935.4 L615.5,935.4 L617.7,935.2 L619.8,935.1 L621.8,934.8 L623.8,934.5 L625.6,934.2 L627.4,933.7 L629,933.2 L630.6,932.6 L632.1,931.8 L633.4,931.1 L634.6,930.3 L635.7,929.5 L636.7,928.6 L637.5,927.7 L638.3,926.8 L638.9,925.7 L639.4,924.6 L639.7,923.5 L639.8,922.4 L639.8,921.2 L639.7,920.1 L639.4,919 L638.9,918 L638.4,917 L637.7,916 L637,915.1 L636.2,914.3 L635.4,913.5 L634.5,912.7 L633.6,912 L632.6,911.3 L631.5,910.6 L630.4,910 L629.2,909.4 L628,908.9 L626.7,908.5 L625.4,908.1 L624.1,907.8 L622.7,907.6 L621.3,907.4 L619.9,907.3 L618.5,907.3 L617.4,907.3 L616.4,907.3 L615.6,907.3 L615,907.3 L614.5,907.3 L614.2,907.3 L614,907.3 L617.9,899.5 L605.7,908.8 L614.4,924.6 L614,913.7 L614.1,913.7 L614.5,913.7 L614.9,913.8 L615.6,913.8 L616.4,913.8 L617.3,913.8 L618.5,913.8 L619.7,913.8 L620.8,913.9 L621.8,914 L622.8,914.2 L623.8,914.4 L624.7,914.6 L625.7,915 L626.5,915.3 L627.4,915.8 L628.2,916.2 L629,916.7 L629.8,917.2 L630.4,917.7 L631,918.3 L631.6,918.8 L632.1,919.4 L632.5,919.9 L632.9,920.4 L633.1,920.8 L633.3,921.2 L633.5,921.6 L633.6,921.9 L633.6,922.3 L633.6,922.6 L633.6,922.9 L633.6,923.2 L633.4,923.7 L633.1,924.1 L632.7,924.7 L632.1,925.3 L631.3,926 L630.5,926.7 L629.5,927.4 L628.4,928 L627.2,928.6 L625.9,929.2 L624.4,929.7 L622.8,930.1 L621.1,930.5 L619.3,930.8 L617.3,931.1 L615.3,931.3 L613.2,931.4 L611.1,931.5 L609,931.6 L606.8,931.6 L604.6,931.5 L602.3,931.4 L600,931.2 L597.8,931 L595.5,930.7 L593.3,930.3 L591.1,929.9 L588.9,929.4 L586.7,928.8 L584.5,928.2 L582.3,927.6 L580.2,926.9 L578.2,926.1 L576.2,925.3 L574.2,924.4 L572.4,923.4 L570.5,922.4 L568.7,921.4 L567,920.2 L565.5,919.2 L564.1,918.4 L563,917.7 L562.2,917.1 L561.5,916.7 L561.1,916.4 L560.9,916.3Z"/></g>
</g>
<rect x="985.8" y="905" width="1.2" height="158" fill="#4d6a74"/>
<path d="M185,751.3 L986.5,751.3 M185,876.8 L986.5,876.8" fill="none" stroke="#231f20" stroke-width="2" stroke-dasharray="5.8 3.9"/>
<path d="M186,998 L428.5,998 L635.6,938.6" fill="none" stroke="#d3a84c" stroke-width="2.1" stroke-linejoin="round"/>
<circle cx="639.5" cy="937.4" r="3.7" fill="#b49d8a" fill-opacity="0.6" stroke="#d3a84c" stroke-width="1.9"/>
<g>
</g>
</svg>
<div class="t" style="left:185px;top:41px">Scrapers draw excess oil off gear set<br>increasing cooling ability of heat sinks.</div>
<div class="t" style="left:185px;top:705px">Static fill level</div>
<div class="t" style="left:185px;top:831px">Operational level</div>
<div class="t" style="left:185px;top:925.5px;line-height:32.5px">Oil scrapers/<br>heat sinks</div>
</body></html>
